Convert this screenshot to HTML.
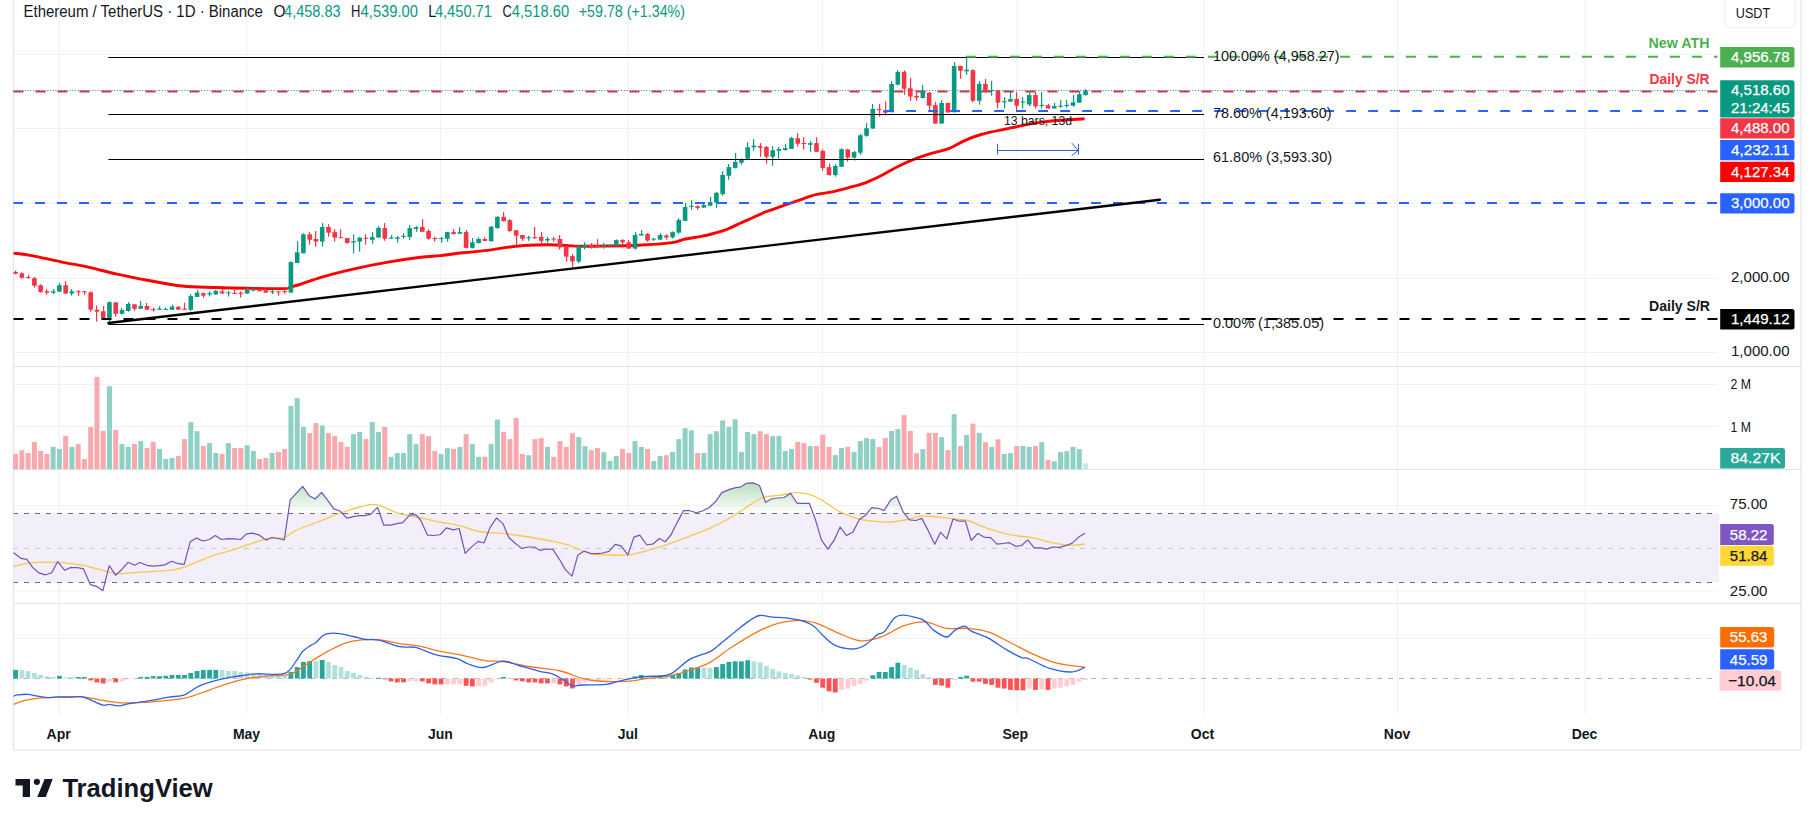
<!DOCTYPE html>
<html><head><meta charset="utf-8"><title>ETH/USDT Chart</title>
<style>html,body{margin:0;padding:0;background:#fff;width:1814px;height:826px;overflow:hidden}svg{display:block}</style>
</head><body><svg width="1814" height="826" viewBox="0 0 1814 826"><g stroke="#f1f1f4" stroke-width="1"><line x1="59.3" y1="0" x2="59.3" y2="715" /><line x1="246.9" y1="0" x2="246.9" y2="715" /><line x1="440.6" y1="0" x2="440.6" y2="715" /><line x1="628.4" y1="0" x2="628.4" y2="715" /><line x1="822.2" y1="0" x2="822.2" y2="715" /><line x1="1016.9" y1="0" x2="1016.9" y2="715" /><line x1="1203.7" y1="0" x2="1203.7" y2="715" /><line x1="1397.4" y1="0" x2="1397.4" y2="715" /><line x1="1584.9" y1="0" x2="1584.9" y2="715" /><line x1="13.5" y1="54.5" x2="1717.5" y2="54.5" /><line x1="13.5" y1="128.5" x2="1717.5" y2="128.5" /><line x1="13.5" y1="203.5" x2="1717.5" y2="203.5" /><line x1="13.5" y1="278.5" x2="1717.5" y2="278.5" /><line x1="13.5" y1="352.5" x2="1717.5" y2="352.5" /><line x1="13.5" y1="384.5" x2="1717.5" y2="384.5" /><line x1="13.5" y1="426.5" x2="1717.5" y2="426.5" /><line x1="13.5" y1="505.5" x2="1717.5" y2="505.5" /><line x1="13.5" y1="591.0" x2="1717.5" y2="591.0" /><line x1="13.5" y1="638.5" x2="1717.5" y2="638.5" /></g><g stroke="#e4e4e8" stroke-width="1.2"><line x1="13.5" y1="0" x2="13.5" y2="750" /><line x1="1801" y1="0" x2="1801" y2="750" stroke="#efeff2" stroke-width="2"/><line x1="13.5" y1="366.5" x2="1801" y2="366.5" /><line x1="13.5" y1="469.5" x2="1801" y2="469.5" /><line x1="13.5" y1="603.5" x2="1801" y2="603.5" /><line x1="13.5" y1="750" x2="1801" y2="750" /></g><rect x="13.5" y="513.3" width="1705.5" height="68.8" fill="#f2effa" /><defs><linearGradient id="ob" gradientUnits="userSpaceOnUse" x1="0" y1="482" x2="0" y2="513.3"><stop offset="0" stop-color="#4caf50" stop-opacity="0.4"/><stop offset="1" stop-color="#4caf50" stop-opacity="0"/></linearGradient><clipPath id="obclip"><rect x="0" y="470" width="1800" height="43.3"/></clipPath></defs><polygon points="14,513.3 14,553 20.9,558.3 26.9,559.3 32.8,567.6 39.4,573.2 45.7,574.8 51.7,572.8 57.6,561.7 64.6,570.2 70.5,567.6 77.5,567.6 83.4,568.8 90.4,584.7 97.3,586.7 102.9,590.7 109.2,565.7 115.6,575.2 121.1,570.2 128.1,562.3 134.6,565.3 140,562.5 146.9,565.3 152.9,566.2 158.8,565.7 164.8,564.9 171.7,561.3 178.3,563.7 184.2,564.3 190.2,541.8 196.5,538.1 202.9,541 209.4,539.5 215.4,535.5 221.4,539.5 228.3,538.7 234.3,538.9 240.6,539.5 246.6,533.9 252.5,533.1 259.1,534.9 266,539.9 272,537.5 277.9,538.5 284.3,539.9 290.2,499.8 302.7,486.3 309.3,495.8 315.2,499 321.6,492.4 328.5,501.4 333.9,508.9 340.4,511.3 346.8,518.2 353.3,516.6 359.3,515.6 365,515.6 370.9,514.1 377.5,507.3 383.8,525.2 390.8,525.2 396.7,523.6 402.7,522.6 409.6,515.2 415.6,514.7 420.5,520 427.5,535.1 434.4,535.5 440.4,534.5 446.3,527.9 453.3,529.9 459.2,528.5 465.2,553.4 471.1,547.4 478.1,541.4 484,543 490,527.6 496.5,518 502.9,523.6 508.8,537.5 514.8,543 521.7,548.4 528.3,547 534.2,547 540.2,550.4 546.5,549 552.9,549.4 559.4,559.3 565.4,569.6 572,576.2 577.9,554.9 584.3,551 591.2,553.7 597.1,553.7 602.5,553 609.1,551.4 615,544.4 621,545.8 627.9,554.9 633.9,537.1 639.8,535.1 646.8,545 653.3,543.8 659.3,538.5 665.2,541.8 671.2,534.5 677.1,522.6 683.5,510.7 689.8,510.7 696.4,512.7 702.9,510.7 708.9,507.7 715.4,501.8 721.8,492.6 729.4,489.4 735.8,487.6 740.1,487.2 746.6,483.3 753,482.9 759.5,485.5 765.5,502.3 771.3,499 777.7,498 784.2,497.5 790.6,493.2 797.1,503.3 803.5,503.3 809.3,503.3 815.4,519.5 821.4,539.9 827.8,549.1 834.3,539.9 840.1,527 846.5,535.6 853,531.9 859.4,519.5 865.2,515.6 871.7,507.6 877.7,508.3 884.2,510.4 890.6,500.1 896.6,496.2 903.1,511.9 909.5,519.9 916,520.5 921.8,518.4 928.2,530.6 934.7,544.2 940.5,532.4 946.9,538.8 953,519 959.4,521.2 965.4,521.2 971.2,540.5 977.7,533.4 984.1,537.1 990.6,537.7 997,544.2 1002.8,543.5 1009.3,542.7 1015.7,546.3 1021.3,545.7 1027.8,539.9 1034.2,547.8 1040.7,547.8 1046.5,549.1 1052.9,547 1059.4,547.4 1065.8,545.7 1072.3,543.1 1078.7,537.1 1084.5,533.4 1084.5,513.3" fill="url(#ob)" clip-path="url(#obclip)" /><g stroke="#6a6d78" stroke-width="1" stroke-dasharray="5 6" stroke-dashoffset="0.5" fill="none"><line x1="13.5" y1="513.5" x2="1717.5" y2="513.5"/><line x1="13.5" y1="548.5" x2="1717.5" y2="548.5" stroke-opacity="0.3"/><line x1="13.5" y1="582.5" x2="1717.5" y2="582.5"/></g><g><rect x="13.10" y="454.0" width="5.0" height="15.2" fill="#f7a9ae" /><rect x="19.36" y="450.2" width="5.0" height="19.0" fill="#f7a9ae" /><rect x="25.62" y="453.0" width="5.0" height="16.2" fill="#f7a9ae" /><rect x="31.87" y="441.9" width="5.0" height="27.3" fill="#f7a9ae" /><rect x="38.13" y="451.0" width="5.0" height="18.2" fill="#f7a9ae" /><rect x="44.39" y="454.0" width="5.0" height="15.2" fill="#f7a9ae" /><rect x="50.64" y="446.9" width="5.0" height="22.3" fill="#8fd0c5" /><rect x="56.90" y="449.0" width="5.0" height="20.2" fill="#8fd0c5" /><rect x="63.16" y="435.8" width="5.0" height="33.4" fill="#f7a9ae" /><rect x="69.41" y="446.9" width="5.0" height="22.3" fill="#8fd0c5" /><rect x="75.67" y="444.1" width="5.0" height="25.1" fill="#f7a9ae" /><rect x="81.93" y="459.0" width="5.0" height="10.2" fill="#f7a9ae" /><rect x="88.19" y="427.0" width="5.0" height="42.2" fill="#f7a9ae" /><rect x="94.44" y="376.9" width="5.0" height="92.3" fill="#f7a9ae" /><rect x="100.70" y="430.9" width="5.0" height="38.3" fill="#f7a9ae" /><rect x="106.96" y="386.2" width="5.0" height="83.0" fill="#8fd0c5" /><rect x="113.21" y="429.9" width="5.0" height="39.3" fill="#f7a9ae" /><rect x="119.47" y="444.1" width="5.0" height="25.1" fill="#8fd0c5" /><rect x="125.73" y="446.9" width="5.0" height="22.3" fill="#8fd0c5" /><rect x="131.98" y="444.1" width="5.0" height="25.1" fill="#f7a9ae" /><rect x="138.24" y="441.1" width="5.0" height="28.1" fill="#8fd0c5" /><rect x="144.50" y="448.1" width="5.0" height="21.1" fill="#f7a9ae" /><rect x="150.75" y="441.9" width="5.0" height="27.3" fill="#f7a9ae" /><rect x="157.01" y="449.0" width="5.0" height="20.2" fill="#8fd0c5" /><rect x="163.27" y="459.0" width="5.0" height="10.2" fill="#8fd0c5" /><rect x="169.53" y="458.0" width="5.0" height="11.2" fill="#8fd0c5" /><rect x="175.78" y="456.0" width="5.0" height="13.2" fill="#f7a9ae" /><rect x="182.04" y="439.1" width="5.0" height="30.1" fill="#f7a9ae" /><rect x="188.30" y="422.1" width="5.0" height="47.1" fill="#8fd0c5" /><rect x="194.55" y="431.2" width="5.0" height="38.0" fill="#8fd0c5" /><rect x="200.81" y="446.1" width="5.0" height="23.1" fill="#f7a9ae" /><rect x="207.07" y="443.1" width="5.0" height="26.1" fill="#8fd0c5" /><rect x="213.32" y="453.0" width="5.0" height="16.2" fill="#8fd0c5" /><rect x="219.58" y="454.0" width="5.0" height="15.2" fill="#f7a9ae" /><rect x="225.84" y="443.1" width="5.0" height="26.1" fill="#8fd0c5" /><rect x="232.10" y="448.1" width="5.0" height="21.1" fill="#f7a9ae" /><rect x="238.35" y="448.1" width="5.0" height="21.1" fill="#f7a9ae" /><rect x="244.61" y="445.2" width="5.0" height="24.0" fill="#8fd0c5" /><rect x="250.87" y="451.0" width="5.0" height="18.2" fill="#8fd0c5" /><rect x="257.12" y="459.0" width="5.0" height="10.2" fill="#f7a9ae" /><rect x="263.38" y="458.0" width="5.0" height="11.2" fill="#f7a9ae" /><rect x="269.64" y="453.0" width="5.0" height="16.2" fill="#8fd0c5" /><rect x="275.89" y="451.9" width="5.0" height="17.3" fill="#f7a9ae" /><rect x="282.15" y="449.0" width="5.0" height="20.2" fill="#f7a9ae" /><rect x="288.41" y="406.0" width="5.0" height="63.2" fill="#8fd0c5" /><rect x="294.67" y="398.1" width="5.0" height="71.1" fill="#8fd0c5" /><rect x="300.92" y="427.0" width="5.0" height="42.2" fill="#8fd0c5" /><rect x="307.18" y="433.2" width="5.0" height="36.0" fill="#f7a9ae" /><rect x="313.44" y="423.2" width="5.0" height="46.0" fill="#f7a9ae" /><rect x="319.69" y="425.4" width="5.0" height="43.8" fill="#8fd0c5" /><rect x="325.95" y="433.2" width="5.0" height="36.0" fill="#f7a9ae" /><rect x="332.21" y="436.1" width="5.0" height="33.1" fill="#f7a9ae" /><rect x="338.46" y="441.9" width="5.0" height="27.3" fill="#f7a9ae" /><rect x="344.72" y="446.9" width="5.0" height="22.3" fill="#f7a9ae" /><rect x="350.98" y="434.2" width="5.0" height="35.0" fill="#8fd0c5" /><rect x="357.24" y="432.0" width="5.0" height="37.2" fill="#8fd0c5" /><rect x="363.49" y="439.1" width="5.0" height="30.1" fill="#f7a9ae" /><rect x="369.75" y="422.1" width="5.0" height="47.1" fill="#8fd0c5" /><rect x="376.01" y="432.0" width="5.0" height="37.2" fill="#8fd0c5" /><rect x="382.26" y="427.0" width="5.0" height="42.2" fill="#f7a9ae" /><rect x="388.52" y="456.8" width="5.0" height="12.4" fill="#8fd0c5" /><rect x="394.78" y="453.0" width="5.0" height="16.2" fill="#8fd0c5" /><rect x="401.03" y="453.0" width="5.0" height="16.2" fill="#8fd0c5" /><rect x="407.29" y="434.2" width="5.0" height="35.0" fill="#8fd0c5" /><rect x="413.55" y="444.1" width="5.0" height="25.1" fill="#8fd0c5" /><rect x="419.81" y="434.2" width="5.0" height="35.0" fill="#f7a9ae" /><rect x="426.06" y="436.1" width="5.0" height="33.1" fill="#f7a9ae" /><rect x="432.32" y="451.0" width="5.0" height="18.2" fill="#f7a9ae" /><rect x="438.58" y="454.0" width="5.0" height="15.2" fill="#8fd0c5" /><rect x="444.83" y="448.1" width="5.0" height="21.1" fill="#8fd0c5" /><rect x="451.09" y="449.0" width="5.0" height="20.2" fill="#f7a9ae" /><rect x="457.35" y="446.9" width="5.0" height="22.3" fill="#8fd0c5" /><rect x="463.60" y="434.2" width="5.0" height="35.0" fill="#f7a9ae" /><rect x="469.86" y="444.1" width="5.0" height="25.1" fill="#8fd0c5" /><rect x="476.12" y="456.8" width="5.0" height="12.4" fill="#8fd0c5" /><rect x="482.38" y="456.8" width="5.0" height="12.4" fill="#f7a9ae" /><rect x="488.63" y="444.1" width="5.0" height="25.1" fill="#8fd0c5" /><rect x="494.89" y="419.6" width="5.0" height="49.6" fill="#8fd0c5" /><rect x="501.15" y="432.0" width="5.0" height="37.2" fill="#f7a9ae" /><rect x="507.40" y="439.1" width="5.0" height="30.1" fill="#f7a9ae" /><rect x="513.66" y="418.0" width="5.0" height="51.2" fill="#f7a9ae" /><rect x="519.92" y="454.0" width="5.0" height="15.2" fill="#f7a9ae" /><rect x="526.17" y="455.2" width="5.0" height="14.0" fill="#8fd0c5" /><rect x="532.43" y="439.1" width="5.0" height="30.1" fill="#f7a9ae" /><rect x="538.69" y="438.1" width="5.0" height="31.1" fill="#f7a9ae" /><rect x="544.95" y="446.9" width="5.0" height="22.3" fill="#8fd0c5" /><rect x="551.20" y="456.8" width="5.0" height="12.4" fill="#f7a9ae" /><rect x="557.46" y="441.1" width="5.0" height="28.1" fill="#f7a9ae" /><rect x="563.72" y="446.9" width="5.0" height="22.3" fill="#f7a9ae" /><rect x="569.97" y="433.2" width="5.0" height="36.0" fill="#f7a9ae" /><rect x="576.23" y="437.0" width="5.0" height="32.2" fill="#8fd0c5" /><rect x="582.49" y="446.1" width="5.0" height="23.1" fill="#8fd0c5" /><rect x="588.75" y="450.2" width="5.0" height="19.0" fill="#f7a9ae" /><rect x="595.00" y="448.1" width="5.0" height="21.1" fill="#f7a9ae" /><rect x="601.26" y="452.2" width="5.0" height="17.0" fill="#8fd0c5" /><rect x="607.52" y="461.0" width="5.0" height="8.2" fill="#8fd0c5" /><rect x="613.77" y="456.0" width="5.0" height="13.2" fill="#8fd0c5" /><rect x="620.03" y="449.0" width="5.0" height="20.2" fill="#f7a9ae" /><rect x="626.29" y="453.0" width="5.0" height="16.2" fill="#f7a9ae" /><rect x="632.54" y="441.1" width="5.0" height="28.1" fill="#8fd0c5" /><rect x="638.80" y="446.9" width="5.0" height="22.3" fill="#8fd0c5" /><rect x="645.06" y="449.0" width="5.0" height="20.2" fill="#f7a9ae" /><rect x="651.31" y="461.0" width="5.0" height="8.2" fill="#8fd0c5" /><rect x="657.57" y="456.0" width="5.0" height="13.2" fill="#8fd0c5" /><rect x="663.83" y="455.2" width="5.0" height="14.0" fill="#f7a9ae" /><rect x="670.09" y="451.9" width="5.0" height="17.3" fill="#8fd0c5" /><rect x="676.34" y="439.1" width="5.0" height="30.1" fill="#8fd0c5" /><rect x="682.60" y="428.2" width="5.0" height="41.0" fill="#8fd0c5" /><rect x="688.86" y="430.4" width="5.0" height="38.8" fill="#8fd0c5" /><rect x="695.11" y="453.0" width="5.0" height="16.2" fill="#f7a9ae" /><rect x="701.37" y="453.0" width="5.0" height="16.2" fill="#8fd0c5" /><rect x="707.63" y="434.2" width="5.0" height="35.0" fill="#8fd0c5" /><rect x="713.88" y="431.2" width="5.0" height="38.0" fill="#8fd0c5" /><rect x="720.14" y="420.4" width="5.0" height="48.8" fill="#8fd0c5" /><rect x="726.40" y="427.0" width="5.0" height="42.2" fill="#8fd0c5" /><rect x="732.66" y="419.3" width="5.0" height="49.9" fill="#8fd0c5" /><rect x="738.91" y="451.9" width="5.0" height="17.3" fill="#8fd0c5" /><rect x="745.17" y="432.0" width="5.0" height="37.2" fill="#8fd0c5" /><rect x="751.43" y="434.2" width="5.0" height="35.0" fill="#8fd0c5" /><rect x="757.68" y="431.2" width="5.0" height="38.0" fill="#f7a9ae" /><rect x="763.94" y="434.2" width="5.0" height="35.0" fill="#f7a9ae" /><rect x="770.20" y="436.1" width="5.0" height="33.1" fill="#8fd0c5" /><rect x="776.45" y="436.1" width="5.0" height="33.1" fill="#8fd0c5" /><rect x="782.71" y="451.0" width="5.0" height="18.2" fill="#8fd0c5" /><rect x="788.97" y="449.0" width="5.0" height="20.2" fill="#8fd0c5" /><rect x="795.23" y="441.9" width="5.0" height="27.3" fill="#f7a9ae" /><rect x="801.48" y="443.1" width="5.0" height="26.1" fill="#f7a9ae" /><rect x="807.74" y="446.1" width="5.0" height="23.1" fill="#8fd0c5" /><rect x="814.00" y="446.1" width="5.0" height="23.1" fill="#f7a9ae" /><rect x="820.25" y="434.8" width="5.0" height="34.4" fill="#f7a9ae" /><rect x="826.51" y="446.9" width="5.0" height="22.3" fill="#f7a9ae" /><rect x="832.77" y="455.2" width="5.0" height="14.0" fill="#8fd0c5" /><rect x="839.02" y="448.1" width="5.0" height="21.1" fill="#8fd0c5" /><rect x="845.28" y="446.9" width="5.0" height="22.3" fill="#f7a9ae" /><rect x="851.54" y="451.9" width="5.0" height="17.3" fill="#8fd0c5" /><rect x="857.80" y="441.1" width="5.0" height="28.1" fill="#8fd0c5" /><rect x="864.05" y="438.1" width="5.0" height="31.1" fill="#8fd0c5" /><rect x="870.31" y="439.1" width="5.0" height="30.1" fill="#8fd0c5" /><rect x="876.57" y="446.9" width="5.0" height="22.3" fill="#f7a9ae" /><rect x="882.82" y="438.0" width="5.0" height="31.2" fill="#f7a9ae" /><rect x="889.08" y="431.0" width="5.0" height="38.2" fill="#8fd0c5" /><rect x="895.34" y="429.1" width="5.0" height="40.1" fill="#8fd0c5" /><rect x="901.59" y="415.1" width="5.0" height="54.1" fill="#f7a9ae" /><rect x="907.85" y="431.0" width="5.0" height="38.2" fill="#f7a9ae" /><rect x="914.11" y="453.2" width="5.0" height="16.0" fill="#f7a9ae" /><rect x="920.37" y="449.1" width="5.0" height="20.1" fill="#8fd0c5" /><rect x="926.62" y="432.9" width="5.0" height="36.3" fill="#f7a9ae" /><rect x="932.88" y="432.9" width="5.0" height="36.3" fill="#f7a9ae" /><rect x="939.14" y="437.1" width="5.0" height="32.1" fill="#8fd0c5" /><rect x="945.39" y="450.1" width="5.0" height="19.1" fill="#f7a9ae" /><rect x="951.65" y="414.2" width="5.0" height="55.0" fill="#8fd0c5" /><rect x="957.91" y="446.0" width="5.0" height="23.2" fill="#f7a9ae" /><rect x="964.16" y="435.1" width="5.0" height="34.1" fill="#8fd0c5" /><rect x="970.42" y="423.6" width="5.0" height="45.6" fill="#f7a9ae" /><rect x="976.68" y="432.9" width="5.0" height="36.3" fill="#8fd0c5" /><rect x="982.94" y="442.2" width="5.0" height="27.0" fill="#f7a9ae" /><rect x="989.19" y="446.9" width="5.0" height="22.3" fill="#8fd0c5" /><rect x="995.45" y="439.3" width="5.0" height="29.9" fill="#f7a9ae" /><rect x="1001.71" y="453.9" width="5.0" height="15.3" fill="#8fd0c5" /><rect x="1007.96" y="453.2" width="5.0" height="16.0" fill="#8fd0c5" /><rect x="1014.22" y="446.0" width="5.0" height="23.2" fill="#f7a9ae" /><rect x="1020.48" y="446.0" width="5.0" height="23.2" fill="#8fd0c5" /><rect x="1026.73" y="446.9" width="5.0" height="22.3" fill="#8fd0c5" /><rect x="1032.99" y="446.0" width="5.0" height="23.2" fill="#f7a9ae" /><rect x="1039.25" y="442.2" width="5.0" height="27.0" fill="#8fd0c5" /><rect x="1045.51" y="460.0" width="5.0" height="9.2" fill="#f7a9ae" /><rect x="1051.76" y="461.3" width="5.0" height="7.9" fill="#8fd0c5" /><rect x="1058.02" y="452.0" width="5.0" height="17.2" fill="#8fd0c5" /><rect x="1064.28" y="451.1" width="5.0" height="18.1" fill="#8fd0c5" /><rect x="1070.53" y="446.9" width="5.0" height="22.3" fill="#8fd0c5" /><rect x="1076.79" y="449.1" width="5.0" height="20.1" fill="#8fd0c5" /><rect x="1083.05" y="463.4" width="5.0" height="5.8" fill="#c4e8e2" /></g><line x1="13.5" y1="678.5" x2="1717.5" y2="678.5" stroke="#787b86" stroke-width="1" stroke-dasharray="5 6" stroke-dashoffset="0.5" stroke-opacity="0.6"/><g><rect x="13.20" y="669.9" width="4.8" height="8.6" fill="#26a69a" /><rect x="19.46" y="669.9" width="4.8" height="8.6" fill="#b2dfdb" /><rect x="25.72" y="671.0" width="4.8" height="7.5" fill="#b2dfdb" /><rect x="31.97" y="673.0" width="4.8" height="5.5" fill="#b2dfdb" /><rect x="38.23" y="675.0" width="4.8" height="3.5" fill="#b2dfdb" /><rect x="44.49" y="676.2" width="4.8" height="2.3" fill="#b2dfdb" /><rect x="50.74" y="677.0" width="4.8" height="1.5" fill="#b2dfdb" /><rect x="57.00" y="675.8" width="4.8" height="2.7" fill="#26a69a" /><rect x="63.26" y="677.4" width="4.8" height="1.1" fill="#b2dfdb" /><rect x="69.51" y="677.4" width="4.8" height="1.1" fill="#b2dfdb" /><rect x="75.77" y="677.0" width="4.8" height="1.5" fill="#26a69a" /><rect x="82.03" y="677.0" width="4.8" height="1.5" fill="#26a69a" /><rect x="88.28" y="678.5" width="4.8" height="1.9" fill="#ff5252" /><rect x="94.54" y="678.5" width="4.8" height="3.9" fill="#ff5252" /><rect x="100.80" y="678.5" width="4.8" height="4.9" fill="#ff5252" /><rect x="107.06" y="678.5" width="4.8" height="2.9" fill="#ffcdd2" /><rect x="113.31" y="678.5" width="4.8" height="3.9" fill="#ff5252" /><rect x="119.57" y="678.5" width="4.8" height="2.9" fill="#ffcdd2" /><rect x="125.83" y="678.5" width="4.8" height="0.9" fill="#ffcdd2" /><rect x="132.08" y="678.5" width="4.8" height="0.8" fill="#ffcdd2" /><rect x="138.34" y="677.0" width="4.8" height="1.5" fill="#26a69a" /><rect x="144.60" y="677.0" width="4.8" height="1.5" fill="#26a69a" /><rect x="150.85" y="676.2" width="4.8" height="2.3" fill="#26a69a" /><rect x="157.11" y="676.2" width="4.8" height="2.3" fill="#26a69a" /><rect x="163.37" y="675.8" width="4.8" height="2.7" fill="#26a69a" /><rect x="169.63" y="675.0" width="4.8" height="3.5" fill="#26a69a" /><rect x="175.88" y="675.0" width="4.8" height="3.5" fill="#26a69a" /><rect x="182.14" y="675.0" width="4.8" height="3.5" fill="#26a69a" /><rect x="188.40" y="673.0" width="4.8" height="5.5" fill="#26a69a" /><rect x="194.65" y="671.0" width="4.8" height="7.5" fill="#26a69a" /><rect x="200.91" y="669.9" width="4.8" height="8.6" fill="#26a69a" /><rect x="207.17" y="669.9" width="4.8" height="8.6" fill="#26a69a" /><rect x="213.42" y="669.9" width="4.8" height="8.6" fill="#26a69a" /><rect x="219.68" y="669.9" width="4.8" height="8.6" fill="#b2dfdb" /><rect x="225.94" y="671.0" width="4.8" height="7.5" fill="#b2dfdb" /><rect x="232.20" y="671.0" width="4.8" height="7.5" fill="#b2dfdb" /><rect x="238.45" y="671.8" width="4.8" height="6.7" fill="#b2dfdb" /><rect x="244.71" y="672.4" width="4.8" height="6.1" fill="#b2dfdb" /><rect x="250.97" y="673.8" width="4.8" height="4.7" fill="#b2dfdb" /><rect x="257.22" y="674.4" width="4.8" height="4.1" fill="#b2dfdb" /><rect x="263.48" y="675.0" width="4.8" height="3.5" fill="#b2dfdb" /><rect x="269.74" y="675.0" width="4.8" height="3.5" fill="#b2dfdb" /><rect x="276.00" y="675.4" width="4.8" height="3.1" fill="#b2dfdb" /><rect x="282.25" y="675.4" width="4.8" height="3.1" fill="#b2dfdb" /><rect x="288.51" y="671.8" width="4.8" height="6.7" fill="#26a69a" /><rect x="294.77" y="667.1" width="4.8" height="11.4" fill="#26a69a" /><rect x="301.02" y="661.9" width="4.8" height="16.6" fill="#26a69a" /><rect x="307.28" y="661.1" width="4.8" height="17.4" fill="#26a69a" /><rect x="313.54" y="661.1" width="4.8" height="17.4" fill="#b2dfdb" /><rect x="319.79" y="659.9" width="4.8" height="18.6" fill="#26a69a" /><rect x="326.05" y="661.9" width="4.8" height="16.6" fill="#b2dfdb" /><rect x="332.31" y="665.1" width="4.8" height="13.4" fill="#b2dfdb" /><rect x="338.56" y="667.1" width="4.8" height="11.4" fill="#b2dfdb" /><rect x="344.82" y="671.0" width="4.8" height="7.5" fill="#b2dfdb" /><rect x="351.08" y="673.0" width="4.8" height="5.5" fill="#b2dfdb" /><rect x="357.34" y="675.0" width="4.8" height="3.5" fill="#b2dfdb" /><rect x="363.59" y="677.0" width="4.8" height="1.5" fill="#b2dfdb" /><rect x="369.85" y="677.8" width="4.8" height="0.8" fill="#b2dfdb" /><rect x="376.11" y="677.8" width="4.8" height="0.8" fill="#26a69a" /><rect x="382.36" y="678.5" width="4.8" height="0.9" fill="#ff5252" /><rect x="388.62" y="678.5" width="4.8" height="2.9" fill="#ff5252" /><rect x="394.88" y="678.5" width="4.8" height="3.9" fill="#ff5252" /><rect x="401.13" y="678.5" width="4.8" height="3.9" fill="#ff5252" /><rect x="407.39" y="678.5" width="4.8" height="2.9" fill="#ffcdd2" /><rect x="413.65" y="678.5" width="4.8" height="2.9" fill="#ffcdd2" /><rect x="419.91" y="678.5" width="4.8" height="2.9" fill="#ff5252" /><rect x="426.16" y="678.5" width="4.8" height="4.9" fill="#ff5252" /><rect x="432.42" y="678.5" width="4.8" height="5.9" fill="#ff5252" /><rect x="438.68" y="678.5" width="4.8" height="5.9" fill="#ff5252" /><rect x="444.93" y="678.5" width="4.8" height="5.9" fill="#ffcdd2" /><rect x="451.19" y="678.5" width="4.8" height="5.9" fill="#ffcdd2" /><rect x="457.45" y="678.5" width="4.8" height="5.9" fill="#ffcdd2" /><rect x="463.70" y="678.5" width="4.8" height="7.3" fill="#ff5252" /><rect x="469.96" y="678.5" width="4.8" height="7.9" fill="#ff5252" /><rect x="476.22" y="678.5" width="4.8" height="7.3" fill="#ffcdd2" /><rect x="482.48" y="678.5" width="4.8" height="7.3" fill="#ffcdd2" /><rect x="488.73" y="678.5" width="4.8" height="3.9" fill="#ffcdd2" /><rect x="494.99" y="678.5" width="4.8" height="0.9" fill="#ffcdd2" /><rect x="501.25" y="677.0" width="4.8" height="1.5" fill="#26a69a" /><rect x="507.50" y="678.0" width="4.8" height="0.8" fill="#b2dfdb" /><rect x="513.76" y="678.5" width="4.8" height="1.9" fill="#ff5252" /><rect x="520.02" y="678.5" width="4.8" height="2.9" fill="#ff5252" /><rect x="526.27" y="678.5" width="4.8" height="3.9" fill="#ff5252" /><rect x="532.53" y="678.5" width="4.8" height="3.9" fill="#ff5252" /><rect x="538.79" y="678.5" width="4.8" height="4.9" fill="#ff5252" /><rect x="545.05" y="678.5" width="4.8" height="4.9" fill="#ff5252" /><rect x="551.30" y="678.5" width="4.8" height="4.9" fill="#ffcdd2" /><rect x="557.56" y="678.5" width="4.8" height="5.9" fill="#ff5252" /><rect x="563.82" y="678.5" width="4.8" height="7.9" fill="#ff5252" /><rect x="570.07" y="678.5" width="4.8" height="9.9" fill="#ff5252" /><rect x="576.33" y="678.5" width="4.8" height="5.9" fill="#ffcdd2" /><rect x="582.59" y="678.5" width="4.8" height="3.9" fill="#ffcdd2" /><rect x="588.85" y="678.5" width="4.8" height="2.9" fill="#ffcdd2" /><rect x="595.10" y="678.5" width="4.8" height="1.9" fill="#ffcdd2" /><rect x="601.36" y="678.5" width="4.8" height="0.9" fill="#ffcdd2" /><rect x="607.62" y="678.5" width="4.8" height="0.8" fill="#ffcdd2" /><rect x="613.87" y="678.5" width="4.8" height="0.8" fill="#ffcdd2" /><rect x="620.13" y="678.5" width="4.8" height="0.8" fill="#ffcdd2" /><rect x="626.39" y="678.5" width="4.8" height="0.8" fill="#ffcdd2" /><rect x="632.64" y="676.4" width="4.8" height="2.1" fill="#26a69a" /><rect x="638.90" y="675.0" width="4.8" height="3.5" fill="#26a69a" /><rect x="645.16" y="675.8" width="4.8" height="2.7" fill="#b2dfdb" /><rect x="651.41" y="676.4" width="4.8" height="2.1" fill="#b2dfdb" /><rect x="657.67" y="675.4" width="4.8" height="3.1" fill="#26a69a" /><rect x="663.93" y="675.8" width="4.8" height="2.7" fill="#b2dfdb" /><rect x="670.19" y="675.0" width="4.8" height="3.5" fill="#26a69a" /><rect x="676.44" y="673.0" width="4.8" height="5.5" fill="#26a69a" /><rect x="682.70" y="669.5" width="4.8" height="9.0" fill="#26a69a" /><rect x="688.96" y="667.5" width="4.8" height="11.0" fill="#26a69a" /><rect x="695.21" y="667.5" width="4.8" height="11.0" fill="#26a69a" /><rect x="701.47" y="667.5" width="4.8" height="11.0" fill="#b2dfdb" /><rect x="707.73" y="667.9" width="4.8" height="10.6" fill="#b2dfdb" /><rect x="713.99" y="667.1" width="4.8" height="11.4" fill="#26a69a" /><rect x="720.24" y="664.1" width="4.8" height="14.4" fill="#26a69a" /><rect x="726.50" y="661.9" width="4.8" height="16.6" fill="#26a69a" /><rect x="732.76" y="661.3" width="4.8" height="17.2" fill="#26a69a" /><rect x="739.01" y="661.3" width="4.8" height="17.2" fill="#26a69a" /><rect x="745.27" y="660.2" width="4.8" height="18.3" fill="#26a69a" /><rect x="751.53" y="661.3" width="4.8" height="17.2" fill="#b2dfdb" /><rect x="757.78" y="662.4" width="4.8" height="16.1" fill="#b2dfdb" /><rect x="764.04" y="666.2" width="4.8" height="12.3" fill="#b2dfdb" /><rect x="770.30" y="668.8" width="4.8" height="9.7" fill="#b2dfdb" /><rect x="776.55" y="671.4" width="4.8" height="7.1" fill="#b2dfdb" /><rect x="782.81" y="673.1" width="4.8" height="5.4" fill="#b2dfdb" /><rect x="789.07" y="674.2" width="4.8" height="4.3" fill="#b2dfdb" /><rect x="795.33" y="675.7" width="4.8" height="2.8" fill="#b2dfdb" /><rect x="801.58" y="677.0" width="4.8" height="1.5" fill="#b2dfdb" /><rect x="807.84" y="678.5" width="4.8" height="1.1" fill="#ff5252" /><rect x="814.10" y="678.5" width="4.8" height="4.3" fill="#ff5252" /><rect x="820.35" y="678.5" width="4.8" height="9.2" fill="#ff5252" /><rect x="826.61" y="678.5" width="4.8" height="12.9" fill="#ff5252" /><rect x="832.87" y="678.5" width="4.8" height="14.0" fill="#ff5252" /><rect x="839.12" y="678.5" width="4.8" height="11.4" fill="#ffcdd2" /><rect x="845.38" y="678.5" width="4.8" height="10.1" fill="#ffcdd2" /><rect x="851.64" y="678.5" width="4.8" height="7.5" fill="#ffcdd2" /><rect x="857.90" y="678.5" width="4.8" height="5.4" fill="#ffcdd2" /><rect x="864.15" y="678.5" width="4.8" height="2.1" fill="#ffcdd2" /><rect x="870.41" y="675.3" width="4.8" height="3.2" fill="#26a69a" /><rect x="876.67" y="672.0" width="4.8" height="6.5" fill="#26a69a" /><rect x="882.92" y="672.0" width="4.8" height="6.5" fill="#26a69a" /><rect x="889.18" y="667.1" width="4.8" height="11.4" fill="#26a69a" /><rect x="895.44" y="662.8" width="4.8" height="15.7" fill="#26a69a" /><rect x="901.69" y="664.9" width="4.8" height="13.6" fill="#b2dfdb" /><rect x="907.95" y="667.7" width="4.8" height="10.8" fill="#b2dfdb" /><rect x="914.21" y="669.9" width="4.8" height="8.6" fill="#b2dfdb" /><rect x="920.47" y="674.2" width="4.8" height="4.3" fill="#b2dfdb" /><rect x="926.72" y="677.5" width="4.8" height="1.0" fill="#b2dfdb" /><rect x="932.98" y="678.5" width="4.8" height="6.4" fill="#ff5252" /><rect x="939.24" y="678.5" width="4.8" height="7.1" fill="#ff5252" /><rect x="945.49" y="678.5" width="4.8" height="9.2" fill="#ff5252" /><rect x="951.75" y="678.5" width="4.8" height="1.5" fill="#ffcdd2" /><rect x="958.01" y="677.0" width="4.8" height="1.5" fill="#26a69a" /><rect x="964.26" y="675.7" width="4.8" height="2.8" fill="#26a69a" /><rect x="970.52" y="678.5" width="4.8" height="3.2" fill="#ff5252" /><rect x="976.78" y="678.5" width="4.8" height="3.2" fill="#ff5252" /><rect x="983.04" y="678.5" width="4.8" height="5.4" fill="#ff5252" /><rect x="989.29" y="678.5" width="4.8" height="6.4" fill="#ff5252" /><rect x="995.55" y="678.5" width="4.8" height="9.2" fill="#ff5252" /><rect x="1001.81" y="678.5" width="4.8" height="10.1" fill="#ff5252" /><rect x="1008.06" y="678.5" width="4.8" height="11.4" fill="#ff5252" /><rect x="1014.32" y="678.5" width="4.8" height="11.8" fill="#ff5252" /><rect x="1020.58" y="678.5" width="4.8" height="11.8" fill="#ff5252" /><rect x="1026.83" y="678.5" width="4.8" height="10.1" fill="#ffcdd2" /><rect x="1033.09" y="678.5" width="4.8" height="11.4" fill="#ff5252" /><rect x="1039.35" y="678.5" width="4.8" height="10.8" fill="#ffcdd2" /><rect x="1045.61" y="678.5" width="4.8" height="11.4" fill="#ff5252" /><rect x="1051.86" y="678.5" width="4.8" height="10.1" fill="#ffcdd2" /><rect x="1058.12" y="678.5" width="4.8" height="9.2" fill="#ffcdd2" /><rect x="1064.38" y="678.5" width="4.8" height="7.5" fill="#ffcdd2" /><rect x="1070.63" y="678.5" width="4.8" height="6.4" fill="#ffcdd2" /><rect x="1076.89" y="678.5" width="4.8" height="3.2" fill="#ffcdd2" /><rect x="1083.15" y="678.5" width="4.8" height="1.5" fill="#ffcdd2" /></g><path d="M14,566.5 C16.63,565.90 22.53,563.60 29.8,562.9 C37.07,562.20 48.67,561.90 57.6,562.3 C66.53,562.70 74.80,563.65 83.4,565.3 C92.00,566.95 102.92,570.82 109.2,572.2 C115.48,573.58 114.48,573.70 121.1,573.6 C127.72,573.50 140.47,572.17 148.9,571.6 C157.33,571.03 165.82,570.93 171.7,570.2 C177.58,569.47 178.07,569.35 184.2,567.2 C190.33,565.05 200.15,560.27 208.5,557.3 C216.85,554.33 224.72,552.43 234.3,549.4 C243.88,546.37 257.73,541.08 266,539.1 C274.27,537.12 278.80,539.02 283.9,537.5 C289.00,535.98 290.92,532.58 296.6,530 C302.28,527.42 310.67,524.83 318,522 C325.33,519.17 333.60,515.50 340.6,513 C347.60,510.50 354.78,508.43 360,507 C365.22,505.57 368.60,504.62 371.9,504.4 C375.20,504.18 375.17,504.15 379.8,505.7 C384.43,507.25 393.08,511.72 399.7,513.7 C406.32,515.68 412.88,516.22 419.5,517.6 C426.12,518.98 432.78,520.67 439.4,522 C446.02,523.33 452.58,524.02 459.2,525.6 C465.82,527.18 472.48,530.25 479.1,531.5 C485.72,532.75 492.28,532.43 498.9,533.1 C505.52,533.77 510.53,534.27 518.8,535.5 C527.07,536.73 540.23,538.92 548.5,540.5 C556.77,542.08 561.78,542.92 568.4,545 C575.02,547.08 581.58,551.35 588.2,553 C594.82,554.65 601.48,554.58 608.1,554.9 C614.72,555.22 621.28,555.65 627.9,554.9 C634.52,554.15 641.18,552.15 647.8,550.4 C654.42,548.65 661.00,546.62 667.6,544.4 C674.20,542.18 680.33,539.82 687.4,537.1 C694.47,534.38 703.37,531.03 710,528.1 C716.63,525.17 721.47,522.73 727.2,519.5 C732.93,516.27 738.67,512.28 744.4,508.7 C750.13,505.12 755.87,500.22 761.6,498 C767.33,495.78 773.07,496.30 778.8,495.4 C784.53,494.50 790.98,492.82 796,492.6 C801.02,492.38 804.60,492.85 808.9,494.1 C813.20,495.35 816.78,497.23 821.8,500.1 C826.82,502.97 833.27,508.25 839,511.3 C844.73,514.35 850.47,516.75 856.2,518.4 C861.93,520.05 867.67,520.60 873.4,521.2 C879.13,521.80 884.87,522.28 890.6,522 C896.33,521.72 902.78,520.47 907.8,519.5 C912.82,518.53 915.68,516.63 920.7,516.2 C925.72,515.77 932.17,516.43 937.9,516.9 C943.63,517.37 950.08,518.40 955.1,519 C960.12,519.60 962.98,519.07 968,520.5 C973.02,521.93 978.03,525.20 985.2,527.6 C992.37,530.00 1003.12,533.22 1011,534.9 C1018.88,536.58 1025.33,536.33 1032.5,537.7 C1039.67,539.07 1047.55,541.83 1054,543.1 C1060.45,544.37 1066.12,545.12 1071.2,545.3 C1076.28,545.48 1082.28,544.38 1084.5,544.2" fill="none" stroke="#f7c948" stroke-width="1.3" stroke-linejoin="round" stroke-linecap="round" /><polyline points="14,553 20.9,558.3 26.9,559.3 32.8,567.6 39.4,573.2 45.7,574.8 51.7,572.8 57.6,561.7 64.6,570.2 70.5,567.6 77.5,567.6 83.4,568.8 90.4,584.7 97.3,586.7 102.9,590.7 109.2,565.7 115.6,575.2 121.1,570.2 128.1,562.3 134.6,565.3 140,562.5 146.9,565.3 152.9,566.2 158.8,565.7 164.8,564.9 171.7,561.3 178.3,563.7 184.2,564.3 190.2,541.8 196.5,538.1 202.9,541 209.4,539.5 215.4,535.5 221.4,539.5 228.3,538.7 234.3,538.9 240.6,539.5 246.6,533.9 252.5,533.1 259.1,534.9 266,539.9 272,537.5 277.9,538.5 284.3,539.9 290.2,499.8 302.7,486.3 309.3,495.8 315.2,499 321.6,492.4 328.5,501.4 333.9,508.9 340.4,511.3 346.8,518.2 353.3,516.6 359.3,515.6 365,515.6 370.9,514.1 377.5,507.3 383.8,525.2 390.8,525.2 396.7,523.6 402.7,522.6 409.6,515.2 415.6,514.7 420.5,520 427.5,535.1 434.4,535.5 440.4,534.5 446.3,527.9 453.3,529.9 459.2,528.5 465.2,553.4 471.1,547.4 478.1,541.4 484,543 490,527.6 496.5,518 502.9,523.6 508.8,537.5 514.8,543 521.7,548.4 528.3,547 534.2,547 540.2,550.4 546.5,549 552.9,549.4 559.4,559.3 565.4,569.6 572,576.2 577.9,554.9 584.3,551 591.2,553.7 597.1,553.7 602.5,553 609.1,551.4 615,544.4 621,545.8 627.9,554.9 633.9,537.1 639.8,535.1 646.8,545 653.3,543.8 659.3,538.5 665.2,541.8 671.2,534.5 677.1,522.6 683.5,510.7 689.8,510.7 696.4,512.7 702.9,510.7 708.9,507.7 715.4,501.8 721.8,492.6 729.4,489.4 735.8,487.6 740.1,487.2 746.6,483.3 753,482.9 759.5,485.5 765.5,502.3 771.3,499 777.7,498 784.2,497.5 790.6,493.2 797.1,503.3 803.5,503.3 809.3,503.3 815.4,519.5 821.4,539.9 827.8,549.1 834.3,539.9 840.1,527 846.5,535.6 853,531.9 859.4,519.5 865.2,515.6 871.7,507.6 877.7,508.3 884.2,510.4 890.6,500.1 896.6,496.2 903.1,511.9 909.5,519.9 916,520.5 921.8,518.4 928.2,530.6 934.7,544.2 940.5,532.4 946.9,538.8 953,519 959.4,521.2 965.4,521.2 971.2,540.5 977.7,533.4 984.1,537.1 990.6,537.7 997,544.2 1002.8,543.5 1009.3,542.7 1015.7,546.3 1021.3,545.7 1027.8,539.9 1034.2,547.8 1040.7,547.8 1046.5,549.1 1052.9,547 1059.4,547.4 1065.8,545.7 1072.3,543.1 1078.7,537.1 1084.5,533.4" fill="none" stroke="#6f55b8" stroke-width="1.2" stroke-linejoin="round" stroke-linecap="round" /><path d="M14,704.2 C15.98,703.53 21.60,701.20 25.9,700.2 C30.20,699.20 34.18,698.70 39.8,698.2 C45.42,697.70 52.33,697.43 59.6,697.2 C66.87,696.97 76.45,696.30 83.4,696.8 C90.35,697.30 95.02,699.20 101.3,700.2 C107.58,701.20 113.17,702.47 121.1,702.8 C129.03,703.13 138.32,702.97 148.9,702.2 C159.48,701.43 174.67,700.18 184.6,698.2 C194.53,696.22 201.22,692.78 208.5,690.3 C215.78,687.82 221.70,685.28 228.3,683.3 C234.90,681.32 241.48,679.62 248.1,678.4 C254.72,677.18 261.92,676.55 268,676 C274.08,675.45 280.27,675.67 284.6,675.1 C288.93,674.53 289.63,674.87 294,672.6 C298.37,670.33 305.17,665.03 310.8,661.5 C316.43,657.97 322.15,654.43 327.8,651.4 C333.45,648.37 339.07,645.22 344.7,643.3 C350.33,641.38 355.72,640.47 361.6,639.9 C367.48,639.33 373.65,639.27 380,639.9 C386.35,640.53 393.12,642.67 399.7,643.7 C406.28,644.73 412.88,644.85 419.5,646.1 C426.12,647.35 432.78,649.78 439.4,651.2 C446.02,652.62 451.60,653.03 459.2,654.6 C466.80,656.17 477.72,659.45 485,660.6 C492.28,661.75 495.62,660.52 502.9,661.5 C510.18,662.48 519.43,665.00 528.7,666.5 C537.97,668.00 549.57,668.52 558.5,670.5 C567.43,672.48 575.70,676.65 582.3,678.4 C588.90,680.15 590.82,680.50 598.1,681 C605.38,681.50 617.72,681.83 626,681.4 C634.28,680.97 640.53,679.33 647.8,678.4 C655.07,677.47 662.67,677.12 669.6,675.8 C676.53,674.48 682.67,672.73 689.4,670.5 C696.13,668.27 702.98,666.27 710,662.4 C717.02,658.53 723.62,652.40 731.5,647.3 C739.38,642.20 749.42,635.82 757.3,631.8 C765.18,627.78 771.63,625.10 778.8,623.2 C785.97,621.30 793.85,620.32 800.3,620.4 C806.75,620.48 811.05,621.55 817.5,623.7 C823.95,625.85 831.83,630.43 839,633.3 C846.17,636.17 853.33,640.35 860.5,640.9 C867.67,641.45 874.83,639.12 882,636.6 C889.17,634.08 896.33,628.25 903.5,625.8 C910.67,623.35 917.83,621.47 925,621.9 C932.17,622.33 939.33,627.32 946.5,628.4 C953.67,629.48 960.83,627.75 968,628.4 C975.17,629.05 982.33,629.87 989.5,632.3 C996.67,634.73 1003.83,639.42 1011,643 C1018.17,646.58 1025.33,650.57 1032.5,653.8 C1039.67,657.03 1046.83,660.33 1054,662.4 C1061.17,664.47 1070.42,665.42 1075.5,666.2 C1080.58,666.98 1083.00,666.95 1084.5,667.1" fill="none" stroke="#f7761a" stroke-width="1.3" stroke-linejoin="round" stroke-linecap="round" /><path d="M14,696 C14.65,695.82 15.58,695.18 17.9,694.9 C20.22,694.62 24.58,694.08 27.9,694.3 C31.22,694.52 34.17,695.65 37.8,696.2 C41.43,696.75 46.07,697.50 49.7,697.6 C53.33,697.70 56.30,696.87 59.6,696.8 C62.90,696.73 65.70,697.20 69.5,697.2 C73.30,697.20 78.42,696.13 82.4,696.8 C86.38,697.47 89.92,699.80 93.4,701.2 C96.88,702.60 100.67,704.67 103.3,705.2 C105.93,705.73 106.57,704.30 109.2,704.4 C111.83,704.50 115.78,705.93 119.1,705.8 C122.42,705.67 124.13,704.43 129.1,703.6 C134.07,702.77 142.28,701.87 148.9,700.8 C155.52,699.73 162.85,698.18 168.8,697.2 C174.75,696.22 179.65,696.72 184.6,694.9 C189.55,693.08 193.20,688.72 198.5,686.3 C203.80,683.88 210.12,682.05 216.4,680.4 C222.68,678.75 229.58,677.50 236.2,676.4 C242.82,675.30 248.03,674.30 256.1,673.8 C264.17,673.30 277.88,675.58 284.6,673.4 C291.32,671.22 293.43,664.30 296.4,660.7 C299.37,657.10 300.00,654.35 302.4,651.8 C304.80,649.25 308.55,646.95 310.8,645.4 C313.05,643.85 314.05,643.98 315.9,642.5 C317.75,641.02 319.92,637.98 321.9,636.5 C323.88,635.02 324.83,634.08 327.8,633.6 C330.77,633.12 335.47,633.12 339.7,633.6 C343.93,634.08 348.83,635.52 353.2,636.5 C357.57,637.48 361.43,638.87 365.9,639.5 C370.37,640.13 374.37,639.10 380,640.3 C385.63,641.50 393.77,645.53 399.7,646.7 C405.63,647.87 410.63,646.32 415.6,647.3 C420.57,648.28 425.53,651.22 429.5,652.6 C433.47,653.98 434.78,654.60 439.4,655.6 C444.02,656.60 452.57,657.28 457.2,658.6 C461.83,659.92 462.90,662.02 467.2,663.5 C471.50,664.98 477.05,667.90 483,667.5 C488.95,667.10 496.93,661.43 502.9,661.1 C508.87,660.77 512.85,663.83 518.8,665.5 C524.75,667.17 532.98,669.70 538.6,671.1 C544.22,672.50 548.53,672.52 552.5,673.9 C556.47,675.28 559.08,677.42 562.4,679.4 C565.72,681.38 569.08,684.87 572.4,685.8 C575.72,686.73 576.68,685.23 582.3,685 C587.92,684.77 600.15,685.00 606.1,684.4 C612.05,683.80 613.37,682.50 618,681.4 C622.63,680.30 628.93,678.63 633.9,677.8 C638.87,676.97 641.85,676.97 647.8,676.4 C653.75,675.83 662.67,677.20 669.6,674.4 C676.53,671.60 682.67,663.40 689.4,659.6 C696.13,655.80 705.13,654.00 710,651.6 C714.87,649.20 714.30,648.60 718.6,645.2 C722.90,641.80 730.78,635.22 735.8,631.2 C740.82,627.18 744.75,623.72 748.7,621.1 C752.65,618.48 755.92,616.22 759.5,615.5 C763.08,614.78 765.18,616.33 770.2,616.8 C775.22,617.27 784.58,617.70 789.6,618.3 C794.62,618.90 796.37,619.15 800.3,620.4 C804.23,621.65 809.25,623.10 813.2,625.8 C817.15,628.50 820.42,633.37 824,636.6 C827.58,639.83 830.05,643.13 834.7,645.2 C839.35,647.27 846.88,649.00 851.9,649 C856.92,649.00 860.50,647.63 864.8,645.2 C869.10,642.77 874.47,636.63 877.7,634.4 C880.93,632.17 881.33,634.60 884.2,631.8 C887.07,629.00 891.68,620.38 894.9,617.6 C898.12,614.82 899.92,615.10 903.5,615.1 C907.08,615.10 912.82,616.60 916.4,617.6 C919.98,618.60 922.13,619.02 925,621.1 C927.87,623.18 930.02,627.45 933.6,630.1 C937.18,632.75 942.92,637.00 946.5,637 C950.08,637.00 952.05,631.90 955.1,630.1 C958.15,628.30 962.12,626.02 964.8,626.2 C967.48,626.38 967.43,629.30 971.2,631.2 C974.97,633.10 981.48,634.48 987.4,637.6 C993.32,640.72 1000.97,646.57 1006.7,649.9 C1012.43,653.23 1018.22,656.17 1021.8,657.6 C1025.38,659.03 1023.55,656.70 1028.2,658.5 C1032.85,660.30 1042.53,666.15 1049.7,668.4 C1056.87,670.65 1065.40,672.12 1071.2,672 C1077.00,671.88 1082.28,668.42 1084.5,667.7" fill="none" stroke="#2f5fe6" stroke-width="1.3" stroke-linejoin="round" stroke-linecap="round" /><path d="M13.6,253.1 C16.63,253.52 23.93,254.15 31.8,255.6 C39.67,257.05 51.22,259.85 60.8,261.8 C70.38,263.75 80.13,265.28 89.3,267.3 C98.47,269.32 105.88,271.70 115.8,273.9 C125.72,276.10 137.78,278.48 148.8,280.5 C159.82,282.52 170.87,284.83 181.9,286 C192.93,287.17 203.98,287.12 215,287.5 C226.02,287.88 236.43,288.12 248,288.3 C259.57,288.48 277.40,288.80 284.4,288.6 C291.40,288.40 287.40,287.78 290,287.1 C292.60,286.42 294.55,286.22 300,284.5 C305.45,282.78 313.47,279.45 322.7,276.8 C331.93,274.15 344.52,271.05 355.4,268.6 C366.28,266.15 377.12,264.00 388,262.1 C398.88,260.20 412.03,258.28 420.7,257.2 C429.37,256.12 433.00,256.33 440,255.6 C447.00,254.87 454.38,253.72 462.7,252.8 C471.02,251.88 482.63,251.00 489.9,250.1 C497.17,249.20 499.95,248.22 506.3,247.4 C512.65,246.58 520.75,245.65 528,245.2 C535.25,244.75 543.43,244.65 549.8,244.7 C556.17,244.75 561.17,245.23 566.2,245.5 C571.23,245.77 574.53,246.20 580,246.3 C585.47,246.40 589.37,246.28 599,246.1 C608.63,245.92 625.63,245.78 637.8,245.2 C649.97,244.62 664.30,243.58 672,242.6 C679.70,241.62 679.33,240.30 684,239.3 C688.67,238.30 695.38,237.48 700,236.6 C704.62,235.72 707.00,235.30 711.7,234 C716.40,232.70 723.48,230.58 728.2,228.8 C732.92,227.02 736.43,224.92 740,223.3 C743.57,221.68 745.25,221.03 749.6,219.1 C753.95,217.17 760.58,213.90 766.1,211.7 C771.62,209.50 777.18,207.83 782.7,205.9 C788.22,203.97 793.68,201.97 799.2,200.1 C804.72,198.23 810.28,196.07 815.8,194.7 C821.32,193.33 826.80,193.07 832.3,191.9 C837.80,190.73 843.28,189.22 848.8,187.7 C854.32,186.18 859.88,184.87 865.4,182.8 C870.92,180.73 876.40,178.07 881.9,175.3 C887.40,172.53 892.88,168.95 898.4,166.2 C903.92,163.45 909.48,160.95 915,158.8 C920.52,156.65 926.00,154.95 931.5,153.3 C937.00,151.65 942.48,151.02 948,148.9 C953.52,146.78 959.08,143.00 964.6,140.6 C970.12,138.20 974.67,136.35 981.1,134.5 C987.53,132.65 992.87,131.60 1003.2,129.5 C1013.53,127.40 1029.53,123.70 1043.1,121.9 C1056.67,120.10 1077.68,119.23 1084.6,118.7" fill="none" stroke="#ff0000" stroke-width="2.9" stroke-linejoin="round" stroke-linecap="butt" /><line x1="13.5" y1="90.5" x2="1717.5" y2="90.5" stroke="#1f8a74" stroke-width="1" stroke-dasharray="1 1.8" /><line x1="13.5" y1="91.4" x2="1717.5" y2="91.4" stroke="#c2404e" stroke-width="2" stroke-dasharray="10 12" /><g><rect x="15" y="270.4" width="1.2" height="4.10" fill="#f23645" /><rect x="13.30" y="272.0" width="4.6" height="1.70" fill="#f23645" /><rect x="21" y="272.3" width="1.2" height="6.30" fill="#f23645" /><rect x="19.56" y="273.3" width="4.6" height="4.50" fill="#f23645" /><rect x="28" y="274.9" width="1.2" height="3.70" fill="#f23645" /><rect x="25.82" y="277.0" width="4.6" height="1.00" fill="#f23645" /><rect x="34" y="277.0" width="1.2" height="10.70" fill="#f23645" /><rect x="32.07" y="278.2" width="4.6" height="7.50" fill="#f23645" /><rect x="40" y="284.2" width="1.2" height="8.50" fill="#f23645" /><rect x="38.33" y="285.3" width="4.6" height="6.60" fill="#f23645" /><rect x="46" y="289.4" width="1.2" height="5.40" fill="#f23645" /><rect x="44.59" y="291.3" width="4.6" height="1.40" fill="#f23645" /><rect x="53" y="289.0" width="1.2" height="5.00" fill="#089981" /><rect x="50.84" y="291.3" width="4.6" height="1.40" fill="#089981" /><rect x="59" y="282.8" width="1.2" height="9.10" fill="#089981" /><rect x="57.10" y="285.3" width="4.6" height="6.30" fill="#089981" /><rect x="65" y="281.1" width="1.2" height="12.80" fill="#f23645" /><rect x="63.36" y="285.3" width="4.6" height="8.20" fill="#f23645" /><rect x="71" y="289.0" width="1.2" height="6.60" fill="#089981" /><rect x="69.61" y="291.3" width="4.6" height="2.20" fill="#089981" /><rect x="78" y="290.2" width="1.2" height="5.60" fill="#f23645" /><rect x="75.87" y="291.3" width="4.6" height="1.00" fill="#f23645" /><rect x="84" y="291.0" width="1.2" height="3.80" fill="#f23645" /><rect x="82.13" y="291.3" width="4.6" height="1.00" fill="#f23645" /><rect x="90" y="291.3" width="1.2" height="20.40" fill="#f23645" /><rect x="88.39" y="292.3" width="4.6" height="17.40" fill="#f23645" /><rect x="96" y="305.5" width="1.2" height="16.20" fill="#f23645" /><rect x="94.64" y="309.7" width="4.6" height="2.00" fill="#f23645" /><rect x="103" y="305.9" width="1.2" height="12.00" fill="#f23645" /><rect x="100.90" y="311.3" width="4.6" height="6.60" fill="#f23645" /><rect x="109" y="301.4" width="1.2" height="21.50" fill="#089981" /><rect x="107.16" y="302.2" width="4.6" height="15.70" fill="#089981" /><rect x="115" y="302.2" width="1.2" height="14.50" fill="#f23645" /><rect x="113.41" y="302.4" width="4.6" height="11.40" fill="#f23645" /><rect x="121" y="308.0" width="1.2" height="6.60" fill="#089981" /><rect x="119.67" y="310.0" width="4.6" height="3.80" fill="#089981" /><rect x="128" y="302.2" width="1.2" height="9.50" fill="#089981" /><rect x="125.93" y="303.9" width="4.6" height="7.00" fill="#089981" /><rect x="134" y="304.3" width="1.2" height="6.60" fill="#f23645" /><rect x="132.18" y="304.3" width="4.6" height="4.50" fill="#f23645" /><rect x="140" y="301.0" width="1.2" height="7.80" fill="#089981" /><rect x="138.44" y="306.0" width="4.6" height="2.80" fill="#089981" /><rect x="146" y="303.0" width="1.2" height="6.70" fill="#f23645" /><rect x="144.70" y="306.0" width="4.6" height="3.70" fill="#f23645" /><rect x="153" y="307.6" width="1.2" height="4.10" fill="#f23645" /><rect x="150.95" y="309.2" width="4.6" height="1.00" fill="#f23645" /><rect x="159" y="306.2" width="1.2" height="3.60" fill="#089981" /><rect x="157.21" y="308.6" width="4.6" height="1.20" fill="#089981" /><rect x="165" y="307.5" width="1.2" height="2.30" fill="#089981" /><rect x="163.47" y="308.9" width="4.6" height="1.00" fill="#089981" /><rect x="172" y="304.7" width="1.2" height="5.10" fill="#089981" /><rect x="169.73" y="306.6" width="4.6" height="3.20" fill="#089981" /><rect x="178" y="306.0" width="1.2" height="3.80" fill="#f23645" /><rect x="175.98" y="306.9" width="4.6" height="2.70" fill="#f23645" /><rect x="184" y="302.9" width="1.2" height="6.90" fill="#f23645" /><rect x="182.24" y="308.6" width="4.6" height="1.20" fill="#f23645" /><rect x="190" y="294.1" width="1.2" height="17.30" fill="#089981" /><rect x="188.50" y="296.0" width="4.6" height="13.80" fill="#089981" /><rect x="197" y="290.0" width="1.2" height="6.90" fill="#089981" /><rect x="194.75" y="292.6" width="4.6" height="4.30" fill="#089981" /><rect x="203" y="292.6" width="1.2" height="5.10" fill="#f23645" /><rect x="201.01" y="293.2" width="4.6" height="2.50" fill="#f23645" /><rect x="209" y="291.4" width="1.2" height="5.10" fill="#089981" /><rect x="207.27" y="293.2" width="4.6" height="1.30" fill="#089981" /><rect x="215" y="290.0" width="1.2" height="4.80" fill="#089981" /><rect x="213.52" y="290.8" width="4.6" height="3.70" fill="#089981" /><rect x="222" y="289.0" width="1.2" height="4.80" fill="#f23645" /><rect x="219.78" y="291.4" width="4.6" height="2.10" fill="#f23645" /><rect x="228" y="290.8" width="1.2" height="5.70" fill="#089981" /><rect x="226.04" y="292.4" width="4.6" height="1.00" fill="#089981" /><rect x="234" y="290.0" width="1.2" height="3.80" fill="#f23645" /><rect x="232.30" y="292.9" width="4.6" height="1.00" fill="#f23645" /><rect x="240" y="291.4" width="1.2" height="6.10" fill="#f23645" /><rect x="238.55" y="292.6" width="4.6" height="1.20" fill="#f23645" /><rect x="247" y="287.6" width="1.2" height="6.20" fill="#089981" /><rect x="244.81" y="290.0" width="4.6" height="3.60" fill="#089981" /><rect x="253" y="287.8" width="1.2" height="3.60" fill="#089981" /><rect x="251.07" y="289.6" width="4.6" height="1.00" fill="#089981" /><rect x="259" y="289.0" width="1.2" height="2.40" fill="#f23645" /><rect x="257.32" y="289.6" width="4.6" height="1.60" fill="#f23645" /><rect x="265" y="289.0" width="1.2" height="3.90" fill="#f23645" /><rect x="263.58" y="290.2" width="4.6" height="2.40" fill="#f23645" /><rect x="272" y="290.0" width="1.2" height="4.10" fill="#089981" /><rect x="269.84" y="291.4" width="4.6" height="1.00" fill="#089981" /><rect x="278" y="291.2" width="1.2" height="4.50" fill="#f23645" /><rect x="276.09" y="291.4" width="4.6" height="1.00" fill="#f23645" /><rect x="284" y="289.0" width="1.2" height="4.80" fill="#f23645" /><rect x="282.35" y="291.2" width="4.6" height="1.00" fill="#f23645" /><rect x="290" y="261.2" width="1.2" height="31.40" fill="#089981" /><rect x="288.61" y="262.1" width="4.6" height="30.50" fill="#089981" /><rect x="297" y="241.2" width="1.2" height="22.00" fill="#089981" /><rect x="294.87" y="252.3" width="4.6" height="10.70" fill="#089981" /><rect x="303" y="233.2" width="1.2" height="20.20" fill="#089981" /><rect x="301.12" y="234.3" width="4.6" height="18.90" fill="#089981" /><rect x="309" y="232.1" width="1.2" height="12.60" fill="#f23645" /><rect x="307.38" y="234.3" width="4.6" height="5.50" fill="#f23645" /><rect x="315" y="231.0" width="1.2" height="15.80" fill="#f23645" /><rect x="313.64" y="239.0" width="4.6" height="2.60" fill="#f23645" /><rect x="322" y="223.1" width="1.2" height="23.50" fill="#089981" /><rect x="319.89" y="227.0" width="4.6" height="14.60" fill="#089981" /><rect x="328" y="224.2" width="1.2" height="12.60" fill="#f23645" /><rect x="326.15" y="227.0" width="4.6" height="5.70" fill="#f23645" /><rect x="334" y="229.2" width="1.2" height="12.40" fill="#f23645" /><rect x="332.41" y="232.1" width="4.6" height="5.50" fill="#f23645" /><rect x="340" y="229.2" width="1.2" height="8.80" fill="#f23645" /><rect x="338.66" y="237.2" width="4.6" height="1.00" fill="#f23645" /><rect x="347" y="238.1" width="1.2" height="5.50" fill="#f23645" /><rect x="344.92" y="238.1" width="4.6" height="4.90" fill="#f23645" /><rect x="353" y="234.3" width="1.2" height="19.10" fill="#089981" /><rect x="351.18" y="241.2" width="4.6" height="1.30" fill="#089981" /><rect x="359" y="237.0" width="1.2" height="14.70" fill="#089981" /><rect x="357.44" y="237.6" width="4.6" height="4.00" fill="#089981" /><rect x="365" y="234.3" width="1.2" height="10.40" fill="#f23645" /><rect x="363.69" y="237.8" width="4.6" height="1.00" fill="#f23645" /><rect x="372" y="232.1" width="1.2" height="11.50" fill="#089981" /><rect x="369.95" y="237.0" width="4.6" height="2.80" fill="#089981" /><rect x="378" y="226.1" width="1.2" height="11.50" fill="#089981" /><rect x="376.21" y="227.8" width="4.6" height="9.80" fill="#089981" /><rect x="384" y="223.1" width="1.2" height="17.70" fill="#f23645" /><rect x="382.46" y="228.1" width="4.6" height="10.60" fill="#f23645" /><rect x="391" y="235.0" width="1.2" height="3.70" fill="#089981" /><rect x="388.72" y="237.6" width="4.6" height="1.10" fill="#089981" /><rect x="397" y="236.0" width="1.2" height="6.70" fill="#089981" /><rect x="394.98" y="237.4" width="4.6" height="1.40" fill="#089981" /><rect x="403" y="233.2" width="1.2" height="5.50" fill="#089981" /><rect x="401.23" y="235.8" width="4.6" height="1.10" fill="#089981" /><rect x="409" y="225.3" width="1.2" height="14.50" fill="#089981" /><rect x="407.49" y="228.1" width="4.6" height="8.90" fill="#089981" /><rect x="416" y="226.1" width="1.2" height="5.70" fill="#089981" /><rect x="413.75" y="227.2" width="4.6" height="1.70" fill="#089981" /><rect x="422" y="219.1" width="1.2" height="12.70" fill="#f23645" /><rect x="420.01" y="227.0" width="4.6" height="4.80" fill="#f23645" /><rect x="428" y="229.2" width="1.2" height="10.60" fill="#f23645" /><rect x="426.26" y="231.0" width="4.6" height="7.70" fill="#f23645" /><rect x="434" y="236.8" width="1.2" height="4.80" fill="#f23645" /><rect x="432.52" y="238.1" width="4.6" height="1.00" fill="#f23645" /><rect x="441" y="237.0" width="1.2" height="5.70" fill="#089981" /><rect x="438.78" y="238.1" width="4.6" height="1.00" fill="#089981" /><rect x="447" y="231.8" width="1.2" height="9.80" fill="#089981" /><rect x="445.03" y="232.1" width="4.6" height="6.60" fill="#089981" /><rect x="453" y="229.2" width="1.2" height="5.40" fill="#f23645" /><rect x="451.29" y="232.1" width="4.6" height="1.90" fill="#f23645" /><rect x="459" y="227.2" width="1.2" height="6.60" fill="#089981" /><rect x="457.55" y="232.1" width="4.6" height="1.70" fill="#089981" /><rect x="466" y="230.0" width="1.2" height="18.50" fill="#f23645" /><rect x="463.80" y="232.1" width="4.6" height="15.80" fill="#f23645" /><rect x="472" y="238.1" width="1.2" height="10.40" fill="#089981" /><rect x="470.06" y="242.3" width="4.6" height="5.60" fill="#089981" /><rect x="478" y="237.3" width="1.2" height="6.30" fill="#089981" /><rect x="476.32" y="239.0" width="4.6" height="4.00" fill="#089981" /><rect x="484" y="237.3" width="1.2" height="3.90" fill="#f23645" /><rect x="482.58" y="239.0" width="4.6" height="1.90" fill="#f23645" /><rect x="491" y="225.9" width="1.2" height="15.70" fill="#089981" /><rect x="488.83" y="226.7" width="4.6" height="14.50" fill="#089981" /><rect x="497" y="216.1" width="1.2" height="12.80" fill="#089981" /><rect x="495.09" y="216.9" width="4.6" height="11.20" fill="#089981" /><rect x="503" y="212.0" width="1.2" height="9.60" fill="#f23645" /><rect x="501.35" y="216.9" width="4.6" height="4.30" fill="#f23645" /><rect x="509" y="219.1" width="1.2" height="12.70" fill="#f23645" /><rect x="507.60" y="220.2" width="4.6" height="10.80" fill="#f23645" /><rect x="516" y="230.0" width="1.2" height="14.90" fill="#f23645" /><rect x="513.86" y="230.3" width="4.6" height="5.40" fill="#f23645" /><rect x="522" y="235.0" width="1.2" height="5.90" fill="#f23645" /><rect x="520.12" y="235.0" width="4.6" height="3.70" fill="#f23645" /><rect x="528" y="236.0" width="1.2" height="4.90" fill="#089981" /><rect x="526.38" y="237.3" width="4.6" height="1.00" fill="#089981" /><rect x="534" y="227.0" width="1.2" height="11.70" fill="#f23645" /><rect x="532.63" y="237.2" width="4.6" height="1.10" fill="#f23645" /><rect x="541" y="232.1" width="1.2" height="11.50" fill="#f23645" /><rect x="538.89" y="236.8" width="4.6" height="4.10" fill="#f23645" /><rect x="547" y="237.0" width="1.2" height="5.70" fill="#089981" /><rect x="545.15" y="239.0" width="4.6" height="1.50" fill="#089981" /><rect x="553" y="237.0" width="1.2" height="4.90" fill="#f23645" /><rect x="551.40" y="238.6" width="4.6" height="1.00" fill="#f23645" /><rect x="559" y="235.0" width="1.2" height="14.60" fill="#f23645" /><rect x="557.66" y="239.0" width="4.6" height="8.40" fill="#f23645" /><rect x="566" y="245.8" width="1.2" height="15.70" fill="#f23645" /><rect x="563.92" y="245.8" width="4.6" height="10.80" fill="#f23645" /><rect x="572" y="253.9" width="1.2" height="13.60" fill="#f23645" /><rect x="570.17" y="256.1" width="4.6" height="5.40" fill="#f23645" /><rect x="578" y="245.2" width="1.2" height="18.00" fill="#089981" /><rect x="576.43" y="246.3" width="4.6" height="15.20" fill="#089981" /><rect x="584" y="242.3" width="1.2" height="7.20" fill="#089981" /><rect x="582.69" y="244.7" width="4.6" height="2.40" fill="#089981" /><rect x="591" y="243.0" width="1.2" height="5.60" fill="#f23645" /><rect x="588.95" y="244.7" width="4.6" height="2.40" fill="#f23645" /><rect x="597" y="239.2" width="1.2" height="8.40" fill="#f23645" /><rect x="595.20" y="245.7" width="4.6" height="1.60" fill="#f23645" /><rect x="603" y="243.0" width="1.2" height="5.60" fill="#089981" /><rect x="601.46" y="245.4" width="4.6" height="1.20" fill="#089981" /><rect x="610" y="244.2" width="1.2" height="2.40" fill="#089981" /><rect x="607.72" y="245.2" width="4.6" height="1.00" fill="#089981" /><rect x="616" y="239.4" width="1.2" height="6.70" fill="#089981" /><rect x="613.97" y="240.1" width="4.6" height="5.60" fill="#089981" /><rect x="622" y="239.2" width="1.2" height="5.00" fill="#f23645" /><rect x="620.23" y="240.1" width="4.6" height="2.20" fill="#f23645" /><rect x="628" y="240.1" width="1.2" height="8.50" fill="#f23645" /><rect x="626.49" y="242.3" width="4.6" height="6.30" fill="#f23645" /><rect x="635" y="232.1" width="1.2" height="17.40" fill="#089981" /><rect x="632.74" y="235.0" width="4.6" height="13.60" fill="#089981" /><rect x="641" y="230.2" width="1.2" height="5.30" fill="#089981" /><rect x="639.00" y="234.0" width="4.6" height="1.50" fill="#089981" /><rect x="647" y="233.1" width="1.2" height="8.70" fill="#f23645" /><rect x="645.26" y="234.0" width="4.6" height="6.50" fill="#f23645" /><rect x="653" y="237.9" width="1.2" height="2.90" fill="#089981" /><rect x="651.51" y="238.7" width="4.6" height="1.00" fill="#089981" /><rect x="660" y="233.1" width="1.2" height="6.80" fill="#089981" /><rect x="657.77" y="235.0" width="4.6" height="4.60" fill="#089981" /><rect x="666" y="234.0" width="1.2" height="5.60" fill="#f23645" /><rect x="664.03" y="235.5" width="4.6" height="1.90" fill="#f23645" /><rect x="672" y="231.4" width="1.2" height="7.00" fill="#089981" /><rect x="670.29" y="232.1" width="4.6" height="5.30" fill="#089981" /><rect x="678" y="218.1" width="1.2" height="15.50" fill="#089981" /><rect x="676.54" y="220.0" width="4.6" height="12.60" fill="#089981" /><rect x="685" y="203.1" width="1.2" height="17.70" fill="#089981" /><rect x="682.80" y="207.0" width="4.6" height="13.80" fill="#089981" /><rect x="691" y="200.2" width="1.2" height="9.60" fill="#089981" /><rect x="689.06" y="205.9" width="4.6" height="1.00" fill="#089981" /><rect x="697" y="205.3" width="1.2" height="4.50" fill="#f23645" /><rect x="695.31" y="206.3" width="4.6" height="1.60" fill="#f23645" /><rect x="703" y="204.0" width="1.2" height="3.90" fill="#089981" /><rect x="701.57" y="205.0" width="4.6" height="2.60" fill="#089981" /><rect x="710" y="197.0" width="1.2" height="9.00" fill="#089981" /><rect x="707.83" y="202.1" width="4.6" height="3.60" fill="#089981" /><rect x="716" y="191.9" width="1.2" height="16.00" fill="#089981" /><rect x="714.09" y="192.9" width="4.6" height="9.70" fill="#089981" /><rect x="722" y="171.2" width="1.2" height="24.50" fill="#089981" /><rect x="720.34" y="175.0" width="4.6" height="19.10" fill="#089981" /><rect x="728" y="164.1" width="1.2" height="15.60" fill="#089981" /><rect x="726.60" y="167.1" width="4.6" height="8.70" fill="#089981" /><rect x="735" y="152.9" width="1.2" height="15.60" fill="#089981" /><rect x="732.86" y="161.9" width="4.6" height="6.00" fill="#089981" /><rect x="741" y="158.3" width="1.2" height="6.40" fill="#089981" /><rect x="739.11" y="159.8" width="4.6" height="2.90" fill="#089981" /><rect x="747" y="142.3" width="1.2" height="16.90" fill="#089981" /><rect x="745.37" y="147.2" width="4.6" height="11.50" fill="#089981" /><rect x="753" y="139.1" width="1.2" height="11.60" fill="#089981" /><rect x="751.63" y="145.6" width="4.6" height="1.60" fill="#089981" /><rect x="760" y="143.1" width="1.2" height="13.70" fill="#f23645" /><rect x="757.88" y="146.1" width="4.6" height="1.70" fill="#f23645" /><rect x="766" y="146.1" width="1.2" height="17.50" fill="#f23645" /><rect x="764.14" y="147.0" width="4.6" height="9.80" fill="#f23645" /><rect x="772" y="146.1" width="1.2" height="19.70" fill="#089981" /><rect x="770.40" y="150.3" width="4.6" height="6.50" fill="#089981" /><rect x="778" y="147.0" width="1.2" height="11.70" fill="#089981" /><rect x="776.65" y="148.9" width="4.6" height="1.80" fill="#089981" /><rect x="785" y="144.2" width="1.2" height="6.50" fill="#089981" /><rect x="782.91" y="148.1" width="4.6" height="1.90" fill="#089981" /><rect x="791" y="136.9" width="1.2" height="12.00" fill="#089981" /><rect x="789.17" y="138.0" width="4.6" height="10.90" fill="#089981" /><rect x="797" y="133.1" width="1.2" height="13.60" fill="#f23645" /><rect x="795.43" y="138.3" width="4.6" height="5.40" fill="#f23645" /><rect x="803" y="137.2" width="1.2" height="12.40" fill="#f23645" /><rect x="801.68" y="142.9" width="4.6" height="1.10" fill="#f23645" /><rect x="810" y="141.2" width="1.2" height="10.60" fill="#089981" /><rect x="807.94" y="143.1" width="4.6" height="1.70" fill="#089981" /><rect x="816" y="137.2" width="1.2" height="14.60" fill="#f23645" /><rect x="814.20" y="143.1" width="4.6" height="8.70" fill="#f23645" /><rect x="822" y="149.2" width="1.2" height="21.50" fill="#f23645" /><rect x="820.45" y="151.0" width="4.6" height="16.90" fill="#f23645" /><rect x="829" y="163.4" width="1.2" height="12.20" fill="#f23645" /><rect x="826.71" y="167.1" width="4.6" height="7.90" fill="#f23645" /><rect x="835" y="164.1" width="1.2" height="12.50" fill="#089981" /><rect x="832.97" y="166.0" width="4.6" height="9.00" fill="#089981" /><rect x="841" y="148.3" width="1.2" height="18.50" fill="#089981" /><rect x="839.23" y="149.2" width="4.6" height="17.60" fill="#089981" /><rect x="847" y="148.9" width="1.2" height="12.70" fill="#f23645" /><rect x="845.48" y="149.4" width="4.6" height="8.20" fill="#f23645" /><rect x="854" y="151.0" width="1.2" height="9.50" fill="#089981" /><rect x="851.74" y="152.1" width="4.6" height="5.50" fill="#089981" /><rect x="860" y="134.2" width="1.2" height="20.70" fill="#089981" /><rect x="858.00" y="135.3" width="4.6" height="17.40" fill="#089981" /><rect x="866" y="123.1" width="1.2" height="13.60" fill="#089981" /><rect x="864.25" y="128.2" width="4.6" height="7.60" fill="#089981" /><rect x="872" y="104.0" width="1.2" height="24.90" fill="#089981" /><rect x="870.51" y="108.9" width="4.6" height="19.60" fill="#089981" /><rect x="879" y="104.0" width="1.2" height="12.50" fill="#f23645" /><rect x="876.77" y="108.9" width="4.6" height="1.10" fill="#f23645" /><rect x="885" y="101.3" width="1.2" height="14.20" fill="#f23645" /><rect x="883.02" y="110.3" width="4.6" height="2.40" fill="#f23645" /><rect x="891" y="81.1" width="1.2" height="31.40" fill="#089981" /><rect x="889.28" y="83.9" width="4.6" height="28.30" fill="#089981" /><rect x="897" y="70.3" width="1.2" height="15.20" fill="#089981" /><rect x="895.54" y="71.9" width="4.6" height="12.70" fill="#089981" /><rect x="904" y="70.3" width="1.2" height="24.50" fill="#f23645" /><rect x="901.79" y="71.9" width="4.6" height="16.90" fill="#f23645" /><rect x="910" y="77.9" width="1.2" height="22.90" fill="#f23645" /><rect x="908.05" y="88.2" width="4.6" height="8.40" fill="#f23645" /><rect x="916" y="92.6" width="1.2" height="8.20" fill="#f23645" /><rect x="914.31" y="96.0" width="4.6" height="1.60" fill="#f23645" /><rect x="922" y="85.0" width="1.2" height="13.60" fill="#089981" /><rect x="920.57" y="91.5" width="4.6" height="6.50" fill="#089981" /><rect x="929" y="92.0" width="1.2" height="18.00" fill="#f23645" /><rect x="926.82" y="92.6" width="4.6" height="13.10" fill="#f23645" /><rect x="935" y="101.8" width="1.2" height="21.80" fill="#f23645" /><rect x="933.08" y="105.1" width="4.6" height="18.50" fill="#f23645" /><rect x="941" y="100.2" width="1.2" height="23.40" fill="#089981" /><rect x="939.34" y="102.9" width="4.6" height="20.70" fill="#089981" /><rect x="947" y="102.9" width="1.2" height="9.60" fill="#f23645" /><rect x="945.59" y="102.9" width="4.6" height="9.60" fill="#f23645" /><rect x="954" y="62.1" width="1.2" height="50.40" fill="#089981" /><rect x="951.85" y="65.9" width="4.6" height="46.30" fill="#089981" /><rect x="960" y="65.9" width="1.2" height="12.80" fill="#f23645" /><rect x="958.11" y="65.9" width="4.6" height="4.90" fill="#f23645" /><rect x="966" y="56.6" width="1.2" height="18.00" fill="#089981" /><rect x="964.37" y="69.7" width="4.6" height="1.60" fill="#089981" /><rect x="972" y="69.2" width="1.2" height="33.20" fill="#f23645" /><rect x="970.62" y="70.3" width="4.6" height="30.50" fill="#f23645" /><rect x="979" y="81.1" width="1.2" height="23.50" fill="#089981" /><rect x="976.88" y="83.9" width="4.6" height="16.90" fill="#089981" /><rect x="985" y="79.0" width="1.2" height="13.60" fill="#f23645" /><rect x="983.14" y="83.9" width="4.6" height="8.10" fill="#f23645" /><rect x="991" y="80.9" width="1.2" height="14.90" fill="#089981" /><rect x="989.39" y="90.0" width="4.6" height="1.10" fill="#089981" /><rect x="997" y="90.3" width="1.2" height="18.20" fill="#f23645" /><rect x="995.65" y="90.3" width="4.6" height="12.40" fill="#f23645" /><rect x="1004" y="97.2" width="1.2" height="11.30" fill="#089981" /><rect x="1001.91" y="101.2" width="4.6" height="1.10" fill="#089981" /><rect x="1010" y="91.1" width="1.2" height="10.50" fill="#089981" /><rect x="1008.16" y="99.0" width="4.6" height="2.60" fill="#089981" /><rect x="1016" y="92.1" width="1.2" height="20.00" fill="#f23645" /><rect x="1014.42" y="99.0" width="4.6" height="6.60" fill="#f23645" /><rect x="1022" y="97.2" width="1.2" height="11.30" fill="#089981" /><rect x="1020.68" y="101.5" width="4.6" height="1.10" fill="#089981" /><rect x="1029" y="92.5" width="1.2" height="13.80" fill="#089981" /><rect x="1026.93" y="95.1" width="4.6" height="9.40" fill="#089981" /><rect x="1035" y="91.8" width="1.2" height="16.70" fill="#f23645" /><rect x="1033.19" y="95.1" width="4.6" height="11.20" fill="#f23645" /><rect x="1041" y="92.1" width="1.2" height="16.40" fill="#089981" /><rect x="1039.45" y="104.9" width="4.6" height="1.10" fill="#089981" /><rect x="1048" y="103.8" width="1.2" height="5.10" fill="#f23645" /><rect x="1045.71" y="105.2" width="4.6" height="3.30" fill="#f23645" /><rect x="1054" y="103.0" width="1.2" height="5.50" fill="#089981" /><rect x="1051.96" y="106.0" width="4.6" height="2.50" fill="#089981" /><rect x="1060" y="100.1" width="1.2" height="7.70" fill="#089981" /><rect x="1058.22" y="105.6" width="4.6" height="1.10" fill="#089981" /><rect x="1066" y="100.1" width="1.2" height="7.70" fill="#089981" /><rect x="1064.48" y="104.9" width="4.6" height="1.10" fill="#089981" /><rect x="1073" y="95.1" width="1.2" height="11.60" fill="#089981" /><rect x="1070.73" y="102.3" width="4.6" height="3.30" fill="#089981" /><rect x="1079" y="91.1" width="1.2" height="11.60" fill="#089981" /><rect x="1076.99" y="94.3" width="4.6" height="8.40" fill="#089981" /><rect x="1085" y="89.1" width="1.2" height="6.55" fill="#089981" /><rect x="1083.25" y="90.6" width="4.6" height="4.45" fill="#089981" /></g><g stroke="#000" stroke-width="1"><line x1="108.4" y1="57.5" x2="1204" y2="57.5" /><line x1="108.4" y1="114.5" x2="1204" y2="114.5" /><line x1="108.4" y1="159.5" x2="1204" y2="159.5" /><line x1="108.4" y1="324.5" x2="1204" y2="324.5" /></g><line x1="13.5" y1="202.9" x2="1717.5" y2="202.9" stroke="#2962ff" stroke-width="2" stroke-dasharray="10 12" stroke-dashoffset="0.5"/><line x1="884.2" y1="111" x2="1717.5" y2="111" stroke="#2962ff" stroke-width="2" stroke-dasharray="9.8 12.2" stroke-dashoffset="0"/><line x1="13.5" y1="319" x2="1717.5" y2="319" stroke="#000" stroke-width="2" stroke-dasharray="10 12" /><line x1="108.4" y1="323" x2="1159.8" y2="199.7" stroke="#000" stroke-width="2.4" stroke-linecap="round" /><line x1="965.9" y1="56.8" x2="1717.5" y2="56.8" stroke="#4caf50" stroke-width="2" stroke-dasharray="10 12" /><g stroke="#3560d8" stroke-width="1" fill="none"><line x1="997.5" y1="150.5" x2="1078.3" y2="150.5" /><line x1="997.5" y1="143.8" x2="997.5" y2="154.6" /><line x1="1078.5" y1="143.8" x2="1078.5" y2="154.6" /><polyline points="1071.9,143.2 1078.2,150.5 1071.6,155.8" /></g><g font-family='"Liberation Sans", sans-serif'><text x="23.5" y="17.2" font-size="16" fill="#131722" text-anchor="start" font-weight="normal" textLength="239.4" lengthAdjust="spacingAndGlyphs">Ethereum / TetherUS · 1D · Binance</text><text x="273.5" y="17.2" font-size="16" fill="#131722" text-anchor="start" font-weight="normal" textLength="12" lengthAdjust="spacingAndGlyphs">O</text><text x="284.1" y="17.2" font-size="16" fill="#089981" text-anchor="start" font-weight="normal" textLength="56.4" lengthAdjust="spacingAndGlyphs">4,458.83</text><text x="351" y="17.2" font-size="16" fill="#131722" text-anchor="start" font-weight="normal" textLength="9.4" lengthAdjust="spacingAndGlyphs">H</text><text x="360.6" y="17.2" font-size="16" fill="#089981" text-anchor="start" font-weight="normal" textLength="57.4" lengthAdjust="spacingAndGlyphs">4,539.00</text><text x="428.2" y="17.2" font-size="16" fill="#131722" text-anchor="start" font-weight="normal" textLength="8.1" lengthAdjust="spacingAndGlyphs">L</text><text x="434.9" y="17.2" font-size="16" fill="#089981" text-anchor="start" font-weight="normal" textLength="57" lengthAdjust="spacingAndGlyphs">4,450.71</text><text x="502.5" y="17.2" font-size="16" fill="#131722" text-anchor="start" font-weight="normal" textLength="9.3" lengthAdjust="spacingAndGlyphs">C</text><text x="511.8" y="17.2" font-size="16" fill="#089981" text-anchor="start" font-weight="normal" textLength="57.3" lengthAdjust="spacingAndGlyphs">4,518.60</text><text x="578.8" y="17.2" font-size="16" fill="#089981" text-anchor="start" font-weight="normal" textLength="106.2" lengthAdjust="spacingAndGlyphs">+59.78 (+1.34%)</text><text x="1213" y="61" font-size="14.5" fill="#131722" text-anchor="start" font-weight="normal" textLength="126.5" lengthAdjust="spacingAndGlyphs">100.00% (4,958.27)</text><text x="1213" y="117.5" font-size="14.5" fill="#131722" text-anchor="start" font-weight="normal" textLength="118.5" lengthAdjust="spacingAndGlyphs">78.60% (4,193.60)</text><text x="1213" y="162.3" font-size="14.5" fill="#131722" text-anchor="start" font-weight="normal" textLength="119" lengthAdjust="spacingAndGlyphs">61.80% (3,593.30)</text><text x="1213" y="327.5" font-size="14.5" fill="#131722" text-anchor="start" font-weight="normal" textLength="111" lengthAdjust="spacingAndGlyphs">0.00% (1,385.05)</text><text x="1004" y="125" font-size="13.5" fill="#131722" text-anchor="start" font-weight="normal" textLength="68" lengthAdjust="spacingAndGlyphs">13 bars, 13d</text><text x="1709.5" y="48.2" font-size="14" fill="#4caf50" text-anchor="end" font-weight="bold" textLength="61" lengthAdjust="spacingAndGlyphs">New ATH</text><text x="1709.5" y="84.2" font-size="14" fill="#f23645" text-anchor="end" font-weight="bold" textLength="60" lengthAdjust="spacingAndGlyphs">Daily S/R</text><text x="1710" y="310.8" font-size="14" fill="#131722" text-anchor="end" font-weight="bold" textLength="61" lengthAdjust="spacingAndGlyphs">Daily S/R</text><path d="M1720.2,47.1 H1792.0 Q1794.5,47.1 1794.5,49.6 V65.0 Q1794.5,67.5 1792.0,67.5 H1720.2 Z" fill="#4caf50" /><text x="1789.5" y="62.3" font-size="15.5" fill="#fff" text-anchor="end" font-weight="normal" textLength="58.5" lengthAdjust="spacingAndGlyphs" stroke="#fff" stroke-width="0.25">4,956.78</text><path d="M1720.2,80.3 H1792 Q1794.5,80.3 1794.5,82.8 V115.1 Q1794.5,117.6 1792,117.6 H1720.2 Z" fill="#089981" /><text x="1789.5" y="94.6" font-size="15.5" fill="#fff" text-anchor="end" font-weight="normal" textLength="58.5" lengthAdjust="spacingAndGlyphs" stroke="#fff" stroke-width="0.25">4,518.60</text><text x="1789.5" y="112.6" font-size="15.5" fill="#fff" text-anchor="end" font-weight="normal" textLength="58.5" lengthAdjust="spacingAndGlyphs" stroke="#fff" stroke-width="0.25">21:24:45</text><path d="M1720.2,118.3 H1792.0 Q1794.5,118.3 1794.5,120.8 V136.1 Q1794.5,138.6 1792.0,138.6 H1720.2 Z" fill="#f23645" /><text x="1789.5" y="133.4" font-size="15.5" fill="#fff" text-anchor="end" font-weight="normal" textLength="58.5" lengthAdjust="spacingAndGlyphs" stroke="#fff" stroke-width="0.25">4,488.00</text><path d="M1720.2,140.0 H1792.0 Q1794.5,140.0 1794.5,142.5 V157.8 Q1794.5,160.3 1792.0,160.3 H1720.2 Z" fill="#2962ff" /><text x="1789.5" y="155.2" font-size="15.5" fill="#fff" text-anchor="end" font-weight="normal" textLength="58.5" lengthAdjust="spacingAndGlyphs" stroke="#fff" stroke-width="0.25">4,232.11</text><path d="M1720.2,161.7 H1792.0 Q1794.5,161.7 1794.5,164.2 V179.4 Q1794.5,181.9 1792.0,181.9 H1720.2 Z" fill="#ff0000" /><text x="1789.5" y="176.8" font-size="15.5" fill="#fff" text-anchor="end" font-weight="normal" textLength="58.5" lengthAdjust="spacingAndGlyphs" stroke="#fff" stroke-width="0.25">4,127.34</text><path d="M1720.2,193.2 H1792.0 Q1794.5,193.2 1794.5,195.7 V211.1 Q1794.5,213.6 1792.0,213.6 H1720.2 Z" fill="#2962ff" /><text x="1789.5" y="208.4" font-size="15.5" fill="#fff" text-anchor="end" font-weight="normal" textLength="58.5" lengthAdjust="spacingAndGlyphs" stroke="#fff" stroke-width="0.25">3,000.00</text><path d="M1720.2,309.0 H1792.0 Q1794.5,309.0 1794.5,311.5 V327.0 Q1794.5,329.5 1792.0,329.5 H1720.2 Z" fill="#000000" /><text x="1789.5" y="324.2" font-size="15.5" fill="#fff" text-anchor="end" font-weight="normal" textLength="58.5" lengthAdjust="spacingAndGlyphs" stroke="#fff" stroke-width="0.25">1,449.12</text><text x="1789.5" y="281.5" font-size="14.5" fill="#131722" text-anchor="end" font-weight="normal" textLength="58.5" lengthAdjust="spacingAndGlyphs">2,000.00</text><text x="1789.5" y="356.3" font-size="14.5" fill="#131722" text-anchor="end" font-weight="normal" textLength="58.5" lengthAdjust="spacingAndGlyphs">1,000.00</text><text x="1730.6" y="389.2" font-size="14.5" fill="#131722" text-anchor="start" font-weight="normal" textLength="20.5" lengthAdjust="spacingAndGlyphs">2 M</text><text x="1730.6" y="431.6" font-size="14.5" fill="#131722" text-anchor="start" font-weight="normal" textLength="20.5" lengthAdjust="spacingAndGlyphs">1 M</text><path d="M1720.2,448.1 H1782.5 Q1785,448.1 1785,450.6 V466.1 Q1785,468.6 1782.5,468.6 H1720.2 Z" fill="#2aa898" /><text x="1780.5" y="463.4" font-size="15.5" fill="#fff" text-anchor="end" font-weight="normal" textLength="50" lengthAdjust="spacingAndGlyphs" stroke="#fff" stroke-width="0.25">84.27K</text><text x="1729.8" y="509.2" font-size="14.5" fill="#131722" text-anchor="start" font-weight="normal" textLength="37.7" lengthAdjust="spacingAndGlyphs">75.00</text><text x="1729.8" y="595.9" font-size="14.5" fill="#131722" text-anchor="start" font-weight="normal" textLength="37.7" lengthAdjust="spacingAndGlyphs">25.00</text><path d="M1720.2,524.0 H1771.3 Q1773.8,524.0 1773.8,526.5 V542.4 Q1773.8,544.9 1771.3,544.9 H1720.2 Z" fill="#7e57c2" /><text x="1767.5" y="539.5" font-size="15.5" fill="#fff" text-anchor="end" font-weight="normal" textLength="37.7" lengthAdjust="spacingAndGlyphs" stroke="#fff" stroke-width="0.25">58.22</text><path d="M1720.2,545.7 H1771.3 Q1773.8,545.7 1773.8,548.2 V563.3 Q1773.8,565.8 1771.3,565.8 H1720.2 Z" fill="#fdd835" /><text x="1767.5" y="560.8" font-size="15.5" fill="#131722" text-anchor="end" font-weight="normal" textLength="37.7" lengthAdjust="spacingAndGlyphs" stroke="#131722" stroke-width="0.25">51.84</text><path d="M1720.2,627.0 H1771.7 Q1774.2,627.0 1774.2,629.5 V645.1 Q1774.2,647.6 1771.7,647.6 H1720.2 Z" fill="#ff6d00" /><text x="1767.5" y="642.3" font-size="15.5" fill="#fff" text-anchor="end" font-weight="normal" textLength="37.7" lengthAdjust="spacingAndGlyphs" stroke="#fff" stroke-width="0.25">55.63</text><path d="M1720.2,649.3 H1771.7 Q1774.2,649.3 1774.2,651.8 V667.1 Q1774.2,669.6 1771.7,669.6 H1720.2 Z" fill="#2962ff" /><text x="1767.5" y="664.5" font-size="15.5" fill="#fff" text-anchor="end" font-weight="normal" textLength="37.7" lengthAdjust="spacingAndGlyphs" stroke="#fff" stroke-width="0.25">45.59</text><path d="M1719.5,670.2 H1778.7 Q1781.2,670.2 1781.2,672.7 V688.3 Q1781.2,690.8 1778.7,690.8 H1719.5 Z" fill="#ffcdd2" /><text x="1776" y="685.5" font-size="15.5" fill="#131722" text-anchor="end" font-weight="normal" textLength="48" lengthAdjust="spacingAndGlyphs" stroke="#131722" stroke-width="0.25">−10.04</text><rect x="1724.5" y="-6" width="71" height="33.5" rx="6" fill="#fff" stroke="#f0f3fa" stroke-width="1.5" /><text x="1735.8" y="17.8" font-size="15" fill="#131722" text-anchor="start" font-weight="normal" textLength="34.4" lengthAdjust="spacingAndGlyphs">USDT</text><text x="58.6" y="739" font-size="14" fill="#131722" text-anchor="middle" font-weight="bold">Apr</text><text x="246.5" y="739" font-size="14" fill="#131722" text-anchor="middle" font-weight="bold">May</text><text x="440.4" y="739" font-size="14" fill="#131722" text-anchor="middle" font-weight="bold">Jun</text><text x="627.9" y="739" font-size="14" fill="#131722" text-anchor="middle" font-weight="bold">Jul</text><text x="821.8" y="739" font-size="14" fill="#131722" text-anchor="middle" font-weight="bold">Aug</text><text x="1015.3" y="739" font-size="14" fill="#131722" text-anchor="middle" font-weight="bold">Sep</text><text x="1202.5" y="739" font-size="14" fill="#131722" text-anchor="middle" font-weight="bold">Oct</text><text x="1397" y="739" font-size="14" fill="#131722" text-anchor="middle" font-weight="bold">Nov</text><text x="1584.5" y="739" font-size="14" fill="#131722" text-anchor="middle" font-weight="bold">Dec</text></g><g fill="#131722"><path d="M15.5,779 H30 V797.1 H22.7 V785.4 H15.5 Z" /><circle cx="36.9" cy="781.8" r="3.1" /><path d="M44.6,779 H52.7 L45.8,797.1 H37.3 Z" /></g><text x="62.4" y="797.1" font-size="25" fill="#131722" text-anchor="start" font-weight="bold" textLength="150.4" lengthAdjust="spacingAndGlyphs" font-family='"Liberation Sans", sans-serif'>TradingView</text></svg></body></html>
